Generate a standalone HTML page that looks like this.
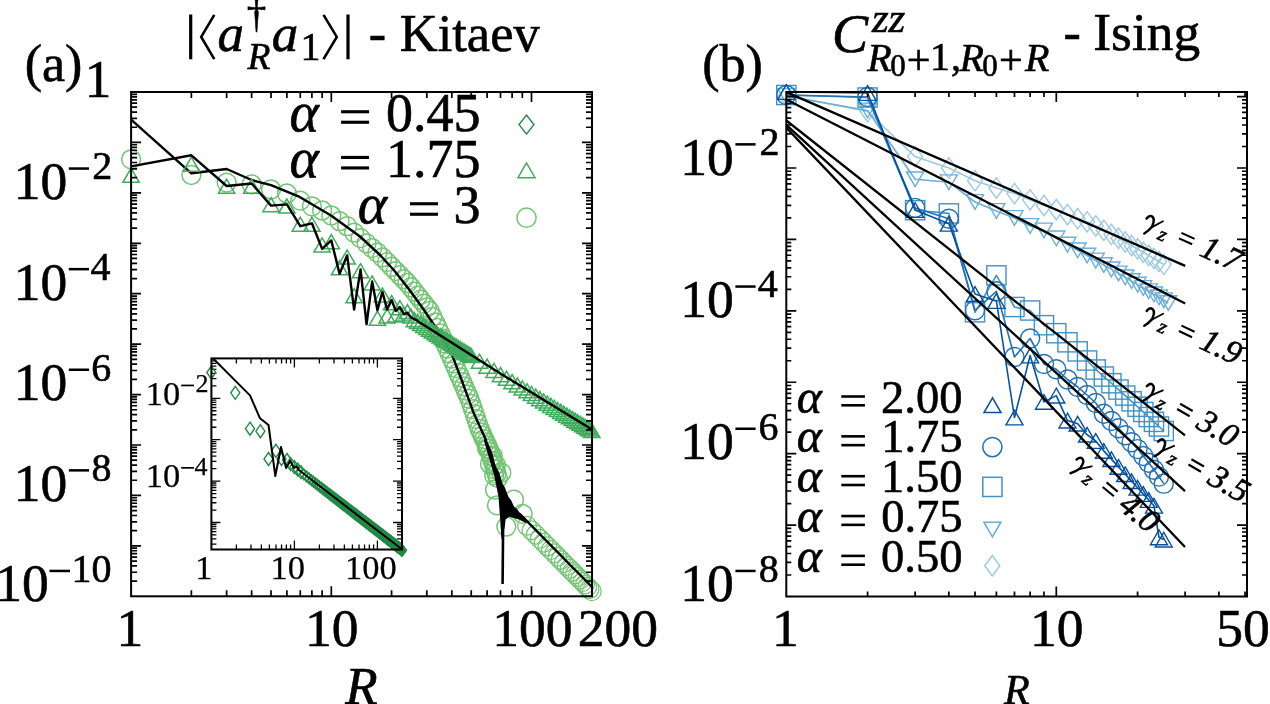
<!DOCTYPE html><html><head><meta charset="utf-8"><style>html,body{margin:0;padding:0;background:#fff;overflow:hidden}svg{display:block;will-change:transform}text{stroke:#000;stroke-width:0.6px}.th text{stroke-width:0.25px}</style></head><body><svg width="1270" height="704" viewBox="0 0 1270 704"><clipPath id="ca"><rect x="131.1" y="92.0" width="460.9" height="504.29999999999995"/></clipPath><g><circle cx="131.1" cy="159.3" r="9.4" fill="none" stroke="#74c476" stroke-width="1.5"/><circle cx="191.37" cy="175" r="9.4" fill="none" stroke="#74c476" stroke-width="1.5"/><circle cx="226.62" cy="182.6" r="9.4" fill="none" stroke="#74c476" stroke-width="1.5"/><circle cx="251.63" cy="184.3" r="9.4" fill="none" stroke="#74c476" stroke-width="1.5"/><circle cx="271.03" cy="189.5" r="9.4" fill="none" stroke="#74c476" stroke-width="1.5"/><circle cx="286.89" cy="193.5" r="9.4" fill="none" stroke="#74c476" stroke-width="1.5"/><circle cx="300.29" cy="200.6" r="9.4" fill="none" stroke="#74c476" stroke-width="1.5"/><circle cx="311.9" cy="206.3" r="9.4" fill="none" stroke="#74c476" stroke-width="1.5"/><circle cx="322.14" cy="210.5" r="9.4" fill="none" stroke="#74c476" stroke-width="1.5"/><circle cx="331.3" cy="215.5" r="9.4" fill="none" stroke="#74c476" stroke-width="1.5"/><circle cx="339.59" cy="221.2" r="9.4" fill="none" stroke="#74c476" stroke-width="1.5"/><circle cx="347.15" cy="226.2" r="9.4" fill="none" stroke="#74c476" stroke-width="1.5"/><circle cx="354.11" cy="232.6" r="9.4" fill="none" stroke="#74c476" stroke-width="1.5"/><circle cx="360.55" cy="238.15" r="9.4" fill="none" stroke="#74c476" stroke-width="1.5"/><circle cx="366.55" cy="243.32" r="9.4" fill="none" stroke="#74c476" stroke-width="1.5"/><circle cx="372.16" cy="248.15" r="9.4" fill="none" stroke="#74c476" stroke-width="1.5"/><circle cx="377.44" cy="252.69" r="9.4" fill="none" stroke="#74c476" stroke-width="1.5"/><circle cx="382.41" cy="257.36" r="9.4" fill="none" stroke="#74c476" stroke-width="1.5"/><circle cx="387.11" cy="262.18" r="9.4" fill="none" stroke="#74c476" stroke-width="1.5"/><circle cx="391.57" cy="266.75" r="9.4" fill="none" stroke="#74c476" stroke-width="1.5"/><circle cx="395.81" cy="271.1" r="9.4" fill="none" stroke="#74c476" stroke-width="1.5"/><circle cx="399.85" cy="275.24" r="9.4" fill="none" stroke="#74c476" stroke-width="1.5"/><circle cx="403.72" cy="279.2" r="9.4" fill="none" stroke="#74c476" stroke-width="1.5"/><circle cx="407.42" cy="282.99" r="9.4" fill="none" stroke="#74c476" stroke-width="1.5"/><circle cx="410.97" cy="287.25" r="9.4" fill="none" stroke="#74c476" stroke-width="1.5"/><circle cx="414.38" cy="291.58" r="9.4" fill="none" stroke="#74c476" stroke-width="1.5"/><circle cx="417.66" cy="295.74" r="9.4" fill="none" stroke="#74c476" stroke-width="1.5"/><circle cx="420.82" cy="299.74" r="9.4" fill="none" stroke="#74c476" stroke-width="1.5"/><circle cx="423.87" cy="303.61" r="9.4" fill="none" stroke="#74c476" stroke-width="1.5"/><circle cx="426.82" cy="307.35" r="9.4" fill="none" stroke="#74c476" stroke-width="1.5"/><circle cx="429.67" cy="310.96" r="9.4" fill="none" stroke="#74c476" stroke-width="1.5"/><circle cx="432.43" cy="316.8" r="9.4" fill="none" stroke="#74c476" stroke-width="1.5"/><circle cx="435.11" cy="322.49" r="9.4" fill="none" stroke="#74c476" stroke-width="1.5"/><circle cx="437.7" cy="328" r="9.4" fill="none" stroke="#74c476" stroke-width="1.5"/><circle cx="440.22" cy="333.35" r="9.4" fill="none" stroke="#74c476" stroke-width="1.5"/><circle cx="442.67" cy="338.56" r="9.4" fill="none" stroke="#74c476" stroke-width="1.5"/><circle cx="445.05" cy="343.62" r="9.4" fill="none" stroke="#74c476" stroke-width="1.5"/><circle cx="447.37" cy="348.54" r="9.4" fill="none" stroke="#74c476" stroke-width="1.5"/><circle cx="449.63" cy="353.44" r="9.4" fill="none" stroke="#74c476" stroke-width="1.5"/><circle cx="451.83" cy="358.48" r="9.4" fill="none" stroke="#74c476" stroke-width="1.5"/><circle cx="453.98" cy="363.4" r="9.4" fill="none" stroke="#74c476" stroke-width="1.5"/><circle cx="456.07" cy="368.19" r="9.4" fill="none" stroke="#74c476" stroke-width="1.5"/><circle cx="458.12" cy="372.87" r="9.4" fill="none" stroke="#74c476" stroke-width="1.5"/><circle cx="460.12" cy="377.45" r="9.4" fill="none" stroke="#74c476" stroke-width="1.5"/><circle cx="462.07" cy="381.92" r="9.4" fill="none" stroke="#74c476" stroke-width="1.5"/><circle cx="463.98" cy="386.29" r="9.4" fill="none" stroke="#74c476" stroke-width="1.5"/><circle cx="465.85" cy="390.57" r="9.4" fill="none" stroke="#74c476" stroke-width="1.5"/><circle cx="467.68" cy="394.76" r="9.4" fill="none" stroke="#74c476" stroke-width="1.5"/><circle cx="469.48" cy="398.86" r="9.4" fill="none" stroke="#74c476" stroke-width="1.5"/><circle cx="471.23" cy="403.89" r="9.4" fill="none" stroke="#74c476" stroke-width="1.5"/><circle cx="472.96" cy="409.04" r="9.4" fill="none" stroke="#74c476" stroke-width="1.5"/><circle cx="474.64" cy="414.08" r="9.4" fill="none" stroke="#74c476" stroke-width="1.5"/><circle cx="476.3" cy="419.04" r="9.4" fill="none" stroke="#74c476" stroke-width="1.5"/><circle cx="477.93" cy="423.89" r="9.4" fill="none" stroke="#74c476" stroke-width="1.5"/><circle cx="479.52" cy="428.66" r="9.4" fill="none" stroke="#74c476" stroke-width="1.5"/><circle cx="481.09" cy="432.33" r="9.4" fill="none" stroke="#74c476" stroke-width="1.5"/><circle cx="482.63" cy="435.72" r="9.4" fill="none" stroke="#74c476" stroke-width="1.5"/><circle cx="484.14" cy="439.05" r="9.4" fill="none" stroke="#74c476" stroke-width="1.5"/><circle cx="485.62" cy="442.33" r="9.4" fill="none" stroke="#74c476" stroke-width="1.5"/><circle cx="487.09" cy="445.54" r="9.4" fill="none" stroke="#74c476" stroke-width="1.5"/><circle cx="488.52" cy="448.71" r="9.4" fill="none" stroke="#74c476" stroke-width="1.5"/><circle cx="489.94" cy="452.07" r="9.4" fill="none" stroke="#74c476" stroke-width="1.5"/><circle cx="491.33" cy="456.57" r="9.4" fill="none" stroke="#74c476" stroke-width="1.5"/><circle cx="492.7" cy="461" r="9.4" fill="none" stroke="#74c476" stroke-width="1.5"/><circle cx="494.05" cy="465.37" r="9.4" fill="none" stroke="#74c476" stroke-width="1.5"/><circle cx="495.37" cy="469.67" r="9.4" fill="none" stroke="#74c476" stroke-width="1.5"/><circle cx="496.68" cy="473.9" r="9.4" fill="none" stroke="#74c476" stroke-width="1.5"/><circle cx="497.97" cy="478.07" r="9.4" fill="none" stroke="#74c476" stroke-width="1.5"/><circle cx="527.04" cy="525.82" r="9.4" fill="none" stroke="#74c476" stroke-width="1.25"/><circle cx="531.5" cy="530.33" r="9.4" fill="none" stroke="#74c476" stroke-width="1.25"/><circle cx="535.74" cy="534.62" r="9.4" fill="none" stroke="#74c476" stroke-width="1.25"/><circle cx="539.79" cy="538.71" r="9.4" fill="none" stroke="#74c476" stroke-width="1.25"/><circle cx="543.65" cy="542.61" r="9.4" fill="none" stroke="#74c476" stroke-width="1.25"/><circle cx="547.35" cy="546.36" r="9.4" fill="none" stroke="#74c476" stroke-width="1.25"/><circle cx="550.9" cy="549.94" r="9.4" fill="none" stroke="#74c476" stroke-width="1.25"/><circle cx="554.31" cy="553.39" r="9.4" fill="none" stroke="#74c476" stroke-width="1.25"/><circle cx="557.59" cy="556.71" r="9.4" fill="none" stroke="#74c476" stroke-width="1.25"/><circle cx="560.75" cy="559.91" r="9.4" fill="none" stroke="#74c476" stroke-width="1.25"/><circle cx="563.81" cy="562.99" r="9.4" fill="none" stroke="#74c476" stroke-width="1.25"/><circle cx="566.75" cy="565.97" r="9.4" fill="none" stroke="#74c476" stroke-width="1.25"/><circle cx="569.6" cy="568.86" r="9.4" fill="none" stroke="#74c476" stroke-width="1.25"/><circle cx="572.36" cy="571.65" r="9.4" fill="none" stroke="#74c476" stroke-width="1.25"/><circle cx="575.04" cy="574.35" r="9.4" fill="none" stroke="#74c476" stroke-width="1.25"/><circle cx="577.64" cy="576.98" r="9.4" fill="none" stroke="#74c476" stroke-width="1.25"/><circle cx="580.16" cy="579.52" r="9.4" fill="none" stroke="#74c476" stroke-width="1.25"/><circle cx="582.61" cy="582" r="9.4" fill="none" stroke="#74c476" stroke-width="1.25"/><circle cx="584.99" cy="584.41" r="9.4" fill="none" stroke="#74c476" stroke-width="1.25"/><circle cx="587.31" cy="586.75" r="9.4" fill="none" stroke="#74c476" stroke-width="1.25"/><circle cx="589.56" cy="589.04" r="9.4" fill="none" stroke="#74c476" stroke-width="1.25"/><circle cx="591.77" cy="591.26" r="9.4" fill="none" stroke="#74c476" stroke-width="1.25"/><circle cx="487" cy="448.5" r="9.4" fill="none" stroke="#74c476" stroke-width="1.5"/><circle cx="492.8" cy="456" r="9.4" fill="none" stroke="#74c476" stroke-width="1.5"/><circle cx="496" cy="465" r="9.4" fill="none" stroke="#74c476" stroke-width="1.5"/><circle cx="501.3" cy="472.7" r="9.4" fill="none" stroke="#74c476" stroke-width="1.5"/><circle cx="490" cy="464" r="9.4" fill="none" stroke="#74c476" stroke-width="1.5"/><circle cx="494.2" cy="475.5" r="9.4" fill="none" stroke="#74c476" stroke-width="1.5"/><circle cx="495" cy="489.7" r="9.4" fill="none" stroke="#74c476" stroke-width="1.5"/><circle cx="497" cy="505.3" r="9.4" fill="none" stroke="#74c476" stroke-width="1.5"/><circle cx="514" cy="499.7" r="9.4" fill="none" stroke="#74c476" stroke-width="1.5"/><circle cx="506.3" cy="526.6" r="9.4" fill="none" stroke="#74c476" stroke-width="1.5"/><circle cx="522.6" cy="513.9" r="9.4" fill="none" stroke="#74c476" stroke-width="1.5"/></g><polyline points="131.1,119.6 191.37,173.3 226.62,169 251.63,180 271.03,185.2 298.4,196.3 331,215.5 360,236.5 380,255 394.2,270.5 408.4,288.5 422.6,308 436.8,329 451.9,354.4 461.6,380 474.1,414.1 485.5,439.1 493.4,466.4" fill="none" stroke="#000" stroke-width="2.4" stroke-linejoin="round" /><polygon points="485,439 488.5,444 492,452 495.6,465.6 499,472 502.7,484 505,488 508.4,496.8 511,500 514.1,506.8 517,509 521.2,515.3 528,521 526,523 519,519.5 509,516.7 505.6,519.5 504.9,526 501.5,540 499.9,515.3 498.5,496.8 494.2,475.5 484,441" fill="#000"/><path d="M503.2 515L502.6 584" stroke="#000" stroke-width="2.6"/><polyline points="505,505 520,514.2 592,587" fill="none" stroke="#000" stroke-width="2.4" stroke-linejoin="round" /><g><polygon points="131.1,168.14 122.95,182.26 139.25,182.26" fill="none" stroke="#41ab5d" stroke-width="1.5"/><polygon points="191.37,157.24 183.22,171.36 199.52,171.36" fill="none" stroke="#41ab5d" stroke-width="1.5"/><polygon points="226.62,179.24 218.47,193.36 234.77,193.36" fill="none" stroke="#41ab5d" stroke-width="1.5"/><polygon points="251.63,179.24 243.48,193.36 259.78,193.36" fill="none" stroke="#41ab5d" stroke-width="1.5"/><polygon points="271.03,197.54 262.88,211.66 279.18,211.66" fill="none" stroke="#41ab5d" stroke-width="1.5"/><polygon points="286.89,198.94 278.74,213.06 295.04,213.06" fill="none" stroke="#41ab5d" stroke-width="1.5"/><polygon points="300.29,217.24 292.14,231.36 308.44,231.36" fill="none" stroke="#41ab5d" stroke-width="1.5"/><polygon points="311.9,217.14 303.75,231.26 320.05,231.26" fill="none" stroke="#41ab5d" stroke-width="1.5"/><polygon points="322.14,237.94 313.99,252.06 330.29,252.06" fill="none" stroke="#41ab5d" stroke-width="1.5"/><polygon points="331.3,234.54 323.15,248.66 339.45,248.66" fill="none" stroke="#41ab5d" stroke-width="1.5"/><polygon points="339.59,260.64 331.44,274.76 347.74,274.76" fill="none" stroke="#41ab5d" stroke-width="1.5"/><polygon points="347.15,249.94 339,264.06 355.3,264.06" fill="none" stroke="#41ab5d" stroke-width="1.5"/><polygon points="354.11,288.54 345.96,302.66 362.26,302.66" fill="none" stroke="#41ab5d" stroke-width="1.5"/><polygon points="360.55,263.64 352.4,277.76 368.7,277.76" fill="none" stroke="#41ab5d" stroke-width="1.5"/><polygon points="372.16,275.94 364.01,290.06 380.31,290.06" fill="none" stroke="#41ab5d" stroke-width="1.5"/><polygon points="377.44,311.14 369.29,325.26 385.59,325.26" fill="none" stroke="#41ab5d" stroke-width="1.5"/><polygon points="382.41,287.94 374.26,302.06 390.56,302.06" fill="none" stroke="#41ab5d" stroke-width="1.5"/><polygon points="387.11,308.94 378.96,323.06 395.26,323.06" fill="none" stroke="#41ab5d" stroke-width="1.5"/><polygon points="391.57,295.54 383.42,309.66 399.72,309.66" fill="none" stroke="#41ab5d" stroke-width="1.5"/><polygon points="395.81,307.94 387.66,322.06 403.96,322.06" fill="none" stroke="#41ab5d" stroke-width="1.5"/><polygon points="399.85,300.64 391.7,314.76 408,314.76" fill="none" stroke="#41ab5d" stroke-width="1.5"/><polygon points="403.72,306.94 395.57,321.06 411.87,321.06" fill="none" stroke="#41ab5d" stroke-width="1.5"/><polygon points="407.42,304.54 399.27,318.66 415.57,318.66" fill="none" stroke="#41ab5d" stroke-width="1.5"/><polygon points="410.97,308.94 402.82,323.06 419.12,323.06" fill="none" stroke="#41ab5d" stroke-width="1.5"/><polygon points="414.38,312.61 406.23,326.73 422.53,326.73" fill="none" stroke="#41ab5d" stroke-width="1.5"/><polygon points="417.66,314.44 409.51,328.56 425.81,328.56" fill="none" stroke="#41ab5d" stroke-width="1.5"/><polygon points="420.82,316.45 412.67,330.57 428.97,330.57" fill="none" stroke="#41ab5d" stroke-width="1.5"/><polygon points="423.87,318.39 415.72,332.51 432.02,332.51" fill="none" stroke="#41ab5d" stroke-width="1.5"/><polygon points="426.82,320.26 418.67,334.38 434.97,334.38" fill="none" stroke="#41ab5d" stroke-width="1.5"/><polygon points="429.67,322.07 421.52,336.19 437.82,336.19" fill="none" stroke="#41ab5d" stroke-width="1.5"/><polygon points="432.43,323.83 424.28,337.94 440.58,337.94" fill="none" stroke="#41ab5d" stroke-width="1.5"/><polygon points="435.11,325.53 426.96,339.64 443.26,339.64" fill="none" stroke="#41ab5d" stroke-width="1.5"/><polygon points="437.7,327.18 429.55,341.29 445.85,341.29" fill="none" stroke="#41ab5d" stroke-width="1.5"/><polygon points="440.22,328.78 432.07,342.89 448.37,342.89" fill="none" stroke="#41ab5d" stroke-width="1.5"/><polygon points="442.67,330.33 434.52,344.45 450.82,344.45" fill="none" stroke="#41ab5d" stroke-width="1.5"/><polygon points="445.05,331.85 436.9,345.96 453.2,345.96" fill="none" stroke="#41ab5d" stroke-width="1.5"/><polygon points="447.37,333.32 439.22,347.43 455.52,347.43" fill="none" stroke="#41ab5d" stroke-width="1.5"/><polygon points="449.63,334.75 441.48,348.87 457.78,348.87" fill="none" stroke="#41ab5d" stroke-width="1.5"/><polygon points="451.83,336.15 443.68,350.27 459.98,350.27" fill="none" stroke="#41ab5d" stroke-width="1.5"/><polygon points="453.98,337.52 445.83,351.63 462.13,351.63" fill="none" stroke="#41ab5d" stroke-width="1.5"/><polygon points="456.07,338.85 447.92,352.96 464.22,352.96" fill="none" stroke="#41ab5d" stroke-width="1.5"/><polygon points="458.12,340.15 449.97,354.26 466.27,354.26" fill="none" stroke="#41ab5d" stroke-width="1.5"/><polygon points="460.12,341.42 451.97,355.53 468.27,355.53" fill="none" stroke="#41ab5d" stroke-width="1.5"/><polygon points="462.07,342.66 453.92,356.77 470.22,356.77" fill="none" stroke="#41ab5d" stroke-width="1.5"/><polygon points="463.98,343.87 455.83,357.99 472.13,357.99" fill="none" stroke="#41ab5d" stroke-width="1.5"/><polygon points="465.85,345.06 457.7,359.18 474,359.18" fill="none" stroke="#41ab5d" stroke-width="1.5"/><polygon points="467.68,346.22 459.53,360.34 475.83,360.34" fill="none" stroke="#41ab5d" stroke-width="1.5"/><polygon points="469.48,347.36 461.33,361.48 477.63,361.48" fill="none" stroke="#41ab5d" stroke-width="1.5"/><polygon points="471.23,348.48 463.08,362.59 479.38,362.59" fill="none" stroke="#41ab5d" stroke-width="1.5"/><polygon points="479.52,354.24 471.37,368.36 487.67,368.36" fill="none" stroke="#41ab5d" stroke-width="1.5"/><polygon points="487.09,359.05 478.94,373.16 495.24,373.16" fill="none" stroke="#41ab5d" stroke-width="1.5"/><polygon points="494.05,363.47 485.9,377.58 502.2,377.58" fill="none" stroke="#41ab5d" stroke-width="1.5"/><polygon points="500.49,367.53 492.34,381.65 508.64,381.65" fill="none" stroke="#41ab5d" stroke-width="1.5"/><polygon points="506.49,371.19 498.34,385.31 514.64,385.31" fill="none" stroke="#41ab5d" stroke-width="1.5"/><polygon points="512.1,374.62 503.95,388.74 520.25,388.74" fill="none" stroke="#41ab5d" stroke-width="1.5"/><polygon points="517.37,377.84 509.22,391.96 525.52,391.96" fill="none" stroke="#41ab5d" stroke-width="1.5"/><polygon points="522.34,380.88 514.19,395 530.49,395" fill="none" stroke="#41ab5d" stroke-width="1.5"/><polygon points="527.04,383.75 518.89,397.87 535.19,397.87" fill="none" stroke="#41ab5d" stroke-width="1.5"/><polygon points="531.5,386.48 523.35,400.59 539.65,400.59" fill="none" stroke="#41ab5d" stroke-width="1.5"/><polygon points="535.74,389.07 527.59,403.19 543.89,403.19" fill="none" stroke="#41ab5d" stroke-width="1.5"/><polygon points="539.79,391.54 531.64,405.66 547.94,405.66" fill="none" stroke="#41ab5d" stroke-width="1.5"/><polygon points="543.65,393.9 535.5,408.02 551.8,408.02" fill="none" stroke="#41ab5d" stroke-width="1.5"/><polygon points="547.35,396.16 539.2,410.28 555.5,410.28" fill="none" stroke="#41ab5d" stroke-width="1.5"/><polygon points="550.9,398.33 542.75,412.45 559.05,412.45" fill="none" stroke="#41ab5d" stroke-width="1.5"/><polygon points="554.31,400.41 546.16,414.53 562.46,414.53" fill="none" stroke="#41ab5d" stroke-width="1.5"/><polygon points="557.59,402.42 549.44,416.54 565.74,416.54" fill="none" stroke="#41ab5d" stroke-width="1.5"/><polygon points="560.75,404.35 552.6,418.47 568.9,418.47" fill="none" stroke="#41ab5d" stroke-width="1.5"/><polygon points="563.81,406.22 555.66,420.33 571.96,420.33" fill="none" stroke="#41ab5d" stroke-width="1.5"/><polygon points="566.75,408.02 558.6,422.13 574.9,422.13" fill="none" stroke="#41ab5d" stroke-width="1.5"/><polygon points="569.6,409.76 561.45,423.87 577.75,423.87" fill="none" stroke="#41ab5d" stroke-width="1.5"/><polygon points="572.36,411.44 564.21,425.56 580.51,425.56" fill="none" stroke="#41ab5d" stroke-width="1.5"/><polygon points="575.04,413.08 566.89,427.2 583.19,427.2" fill="none" stroke="#41ab5d" stroke-width="1.5"/><polygon points="577.64,414.67 569.49,428.78 585.79,428.78" fill="none" stroke="#41ab5d" stroke-width="1.5"/><polygon points="580.16,416.21 572.01,430.32 588.31,430.32" fill="none" stroke="#41ab5d" stroke-width="1.5"/><polygon points="582.61,417.7 574.46,431.82 590.76,431.82" fill="none" stroke="#41ab5d" stroke-width="1.5"/><polygon points="584.99,419.16 576.84,433.27 593.14,433.27" fill="none" stroke="#41ab5d" stroke-width="1.5"/><polygon points="587.31,420.57 579.16,434.69 595.46,434.69" fill="none" stroke="#41ab5d" stroke-width="1.5"/><polygon points="589.56,421.95 581.41,436.07 597.71,436.07" fill="none" stroke="#41ab5d" stroke-width="1.5"/><polygon points="591.77,423.3 583.62,437.42 599.92,437.42" fill="none" stroke="#41ab5d" stroke-width="1.5"/></g><polyline points="131.1,166.4 191.37,155.3 226.62,186 251.63,183.5 271.03,205.6 286.89,204.4 300.29,226.2 311.9,223.3 322.14,248.9 331.3,240.4 339.59,273.9 347.15,255.3 354.11,309.6 360.55,269.4 366.55,324.3 372.16,281.5 377.44,310.3 382.41,291.8 387.11,309.6 391.57,300 395.81,311 399.85,307 403.72,314 407.42,312.8 410.97,317.3 417.5,320.9 499.2,372.8 592,429.5" fill="none" stroke="#000" stroke-width="2.4" stroke-linejoin="round" /><polygon points="526.5,115.1 533.9,124.6 526.5,134.1 519.1,124.6" fill="none" stroke="#238b45" stroke-width="1.5"/><polygon points="526.5,162.94 518,177.66 535,177.66" fill="none" stroke="#41ab5d" stroke-width="1.5"/><circle cx="526.5" cy="217.7" r="9.6" fill="none" stroke="#74c476" stroke-width="1.5"/><rect x="211.4" y="358.4" width="190.6" height="191.10000000000002" fill="#fff"/><path d="M236.39 549.5v-5M236.39 358.4v5M251 549.5v-5M251 358.4v5M261.37 549.5v-5M261.37 358.4v5M269.41 549.5v-5M269.41 358.4v5M275.99 549.5v-5M275.99 358.4v5M281.54 549.5v-5M281.54 358.4v5M286.36 549.5v-5M286.36 358.4v5M290.6 549.5v-5M290.6 358.4v5M294.4 549.5v-9M294.4 358.4v9M319.39 549.5v-5M319.39 358.4v5M334 549.5v-5M334 358.4v5M344.37 549.5v-5M344.37 358.4v5M352.41 549.5v-5M352.41 358.4v5M358.99 549.5v-5M358.99 358.4v5M364.54 549.5v-5M364.54 358.4v5M369.36 549.5v-5M369.36 358.4v5M373.6 549.5v-5M373.6 358.4v5M377.4 549.5v-9M377.4 358.4v9M211.4 544.15h5M402 544.15h-5M211.4 538.97h5M402 538.97h-5M211.4 534.96h5M402 534.96h-5M211.4 531.68h5M402 531.68h-5M211.4 528.91h5M402 528.91h-5M211.4 526.51h5M402 526.51h-5M211.4 524.39h5M402 524.39h-5M211.4 522.5h9M402 522.5h-9M211.4 510.04h5M402 510.04h-5M211.4 502.75h5M402 502.75h-5M211.4 497.57h5M402 497.57h-5M211.4 493.56h5M402 493.56h-5M211.4 490.28h5M402 490.28h-5M211.4 487.51h5M402 487.51h-5M211.4 485.11h5M402 485.11h-5M211.4 482.99h5M402 482.99h-5M211.4 481.1h9M402 481.1h-9M211.4 468.64h5M402 468.64h-5M211.4 461.35h5M402 461.35h-5M211.4 456.17h5M402 456.17h-5M211.4 452.16h5M402 452.16h-5M211.4 448.88h5M402 448.88h-5M211.4 446.11h5M402 446.11h-5M211.4 443.71h5M402 443.71h-5M211.4 441.59h5M402 441.59h-5M211.4 439.7h9M402 439.7h-9M211.4 427.24h5M402 427.24h-5M211.4 419.95h5M402 419.95h-5M211.4 414.77h5M402 414.77h-5M211.4 410.76h5M402 410.76h-5M211.4 407.48h5M402 407.48h-5M211.4 404.71h5M402 404.71h-5M211.4 402.31h5M402 402.31h-5M211.4 400.19h5M402 400.19h-5M211.4 398.3h9M402 398.3h-9M211.4 385.84h5M402 385.84h-5M211.4 378.55h5M402 378.55h-5M211.4 373.37h5M402 373.37h-5M211.4 369.36h5M402 369.36h-5M211.4 366.08h5M402 366.08h-5M211.4 363.31h5M402 363.31h-5M211.4 360.91h5M402 360.91h-5" stroke="#000" stroke-width="1.3" fill="none"/><g><polygon points="211.3,366 215.8,372.5 211.3,379 206.8,372.5" fill="none" stroke="#238b45" stroke-width="1.4"/><polygon points="235.3,386.3 239.8,392.8 235.3,399.3 230.8,392.8" fill="none" stroke="#238b45" stroke-width="1.4"/><polygon points="250,422.2 254.5,428.7 250,435.2 245.5,428.7" fill="none" stroke="#238b45" stroke-width="1.4"/><polygon points="260.4,424.7 264.9,431.2 260.4,437.7 255.9,431.2" fill="none" stroke="#238b45" stroke-width="1.4"/><polygon points="268.5,452.5 273,459 268.5,465.5 264,459" fill="none" stroke="#238b45" stroke-width="1.4"/><polygon points="275.9,444.3 280.4,450.8 275.9,457.3 271.4,450.8" fill="none" stroke="#238b45" stroke-width="1.4"/><polygon points="281.5,452.5 286,459 281.5,465.5 277,459" fill="none" stroke="#238b45" stroke-width="1.4"/><polygon points="287,453.5 291.5,460 287,466.5 282.5,460" fill="none" stroke="#238b45" stroke-width="1.4"/><polygon points="290.6,457.63 295.1,464.13 290.6,470.63 286.1,464.13" fill="none" stroke="#238b45" stroke-width="1.4"/><polygon points="294.4,460.57 298.9,467.07 294.4,473.57 289.9,467.07" fill="none" stroke="#238b45" stroke-width="1.4"/><polygon points="297.84,463.22 302.34,469.72 297.84,476.22 293.34,469.72" fill="none" stroke="#238b45" stroke-width="1.4"/><polygon points="300.97,465.64 305.47,472.14 300.97,478.64 296.47,472.14" fill="none" stroke="#238b45" stroke-width="1.4"/><polygon points="303.86,468.87 307.86,474.37 303.86,479.87 299.86,474.37" fill="none" stroke="#238b45" stroke-width="1.4"/><polygon points="306.53,470.93 310.53,476.43 306.53,481.93 302.53,476.43" fill="none" stroke="#238b45" stroke-width="1.4"/><polygon points="309.02,472.85 313.02,478.35 309.02,483.85 305.02,478.35" fill="none" stroke="#238b45" stroke-width="1.4"/><polygon points="311.34,474.65 315.34,480.15 311.34,485.65 307.34,480.15" fill="none" stroke="#238b45" stroke-width="1.4"/><polygon points="313.53,476.33 317.53,481.83 313.53,487.33 309.53,481.83" fill="none" stroke="#238b45" stroke-width="1.4"/><polygon points="315.59,477.92 319.59,483.42 315.59,488.92 311.59,483.42" fill="none" stroke="#238b45" stroke-width="1.4"/><polygon points="317.54,479.43 321.54,484.93 317.54,490.43 313.54,484.93" fill="none" stroke="#238b45" stroke-width="1.4"/><polygon points="319.39,480.86 323.39,486.36 319.39,491.86 315.39,486.36" fill="none" stroke="#238b45" stroke-width="1.4"/><polygon points="321.14,482.21 325.14,487.71 321.14,493.21 317.14,487.71" fill="none" stroke="#238b45" stroke-width="1.4"/><polygon points="322.82,483.51 326.82,489.01 322.82,494.51 318.82,489.01" fill="none" stroke="#238b45" stroke-width="1.4"/><polygon points="324.42,484.75 328.42,490.25 324.42,495.75 320.42,490.25" fill="none" stroke="#238b45" stroke-width="1.4"/><polygon points="325.96,485.93 329.96,491.43 325.96,496.93 321.96,491.43" fill="none" stroke="#238b45" stroke-width="1.4"/><polygon points="327.43,487.07 331.43,492.57 327.43,498.07 323.43,492.57" fill="none" stroke="#238b45" stroke-width="1.4"/><polygon points="328.84,488.16 332.84,493.66 328.84,499.16 324.84,493.66" fill="none" stroke="#238b45" stroke-width="1.4"/><polygon points="330.2,489.21 334.2,494.71 330.2,500.21 326.2,494.71" fill="none" stroke="#238b45" stroke-width="1.4"/><polygon points="331.51,490.22 335.51,495.72 331.51,501.22 327.51,495.72" fill="none" stroke="#238b45" stroke-width="1.4"/><polygon points="332.78,491.2 336.78,496.7 332.78,502.2 328.78,496.7" fill="none" stroke="#238b45" stroke-width="1.4"/><polygon points="334,492.14 338,497.64 334,503.14 330,497.64" fill="none" stroke="#238b45" stroke-width="1.4"/><polygon points="335.18,493.05 339.18,498.55 335.18,504.05 331.18,498.55" fill="none" stroke="#238b45" stroke-width="1.4"/><polygon points="336.33,493.94 340.33,499.44 336.33,504.94 332.33,499.44" fill="none" stroke="#238b45" stroke-width="1.4"/><polygon points="337.44,494.79 341.44,500.29 337.44,505.79 333.44,500.29" fill="none" stroke="#238b45" stroke-width="1.4"/><polygon points="338.51,495.62 342.51,501.12 338.51,506.62 334.51,501.12" fill="none" stroke="#238b45" stroke-width="1.4"/><polygon points="339.56,496.43 343.56,501.93 339.56,507.43 335.56,501.93" fill="none" stroke="#238b45" stroke-width="1.4"/><polygon points="340.57,497.21 344.57,502.71 340.57,508.21 336.57,502.71" fill="none" stroke="#238b45" stroke-width="1.4"/><polygon points="341.56,497.98 345.56,503.48 341.56,508.98 337.56,503.48" fill="none" stroke="#238b45" stroke-width="1.4"/><polygon points="342.52,498.72 346.52,504.22 342.52,509.72 338.52,504.22" fill="none" stroke="#238b45" stroke-width="1.4"/><polygon points="343.46,499.44 347.46,504.94 343.46,510.44 339.46,504.94" fill="none" stroke="#238b45" stroke-width="1.4"/><polygon points="344.37,500.15 348.37,505.65 344.37,511.15 340.37,505.65" fill="none" stroke="#238b45" stroke-width="1.4"/><polygon points="345.26,500.83 349.26,506.33 345.26,511.83 341.26,506.33" fill="none" stroke="#238b45" stroke-width="1.4"/><polygon points="346.13,501.5 350.13,507 346.13,512.5 342.13,507" fill="none" stroke="#238b45" stroke-width="1.4"/><polygon points="346.98,502.16 350.98,507.66 346.98,513.16 342.98,507.66" fill="none" stroke="#238b45" stroke-width="1.4"/><polygon points="347.81,502.8 351.81,508.3 347.81,513.8 343.81,508.3" fill="none" stroke="#238b45" stroke-width="1.4"/><polygon points="348.62,503.42 352.62,508.92 348.62,514.42 344.62,508.92" fill="none" stroke="#238b45" stroke-width="1.4"/><polygon points="349.41,504.04 353.41,509.54 349.41,515.04 345.41,509.54" fill="none" stroke="#238b45" stroke-width="1.4"/><polygon points="350.18,504.63 354.18,510.13 350.18,515.63 346.18,510.13" fill="none" stroke="#238b45" stroke-width="1.4"/><polygon points="350.94,505.22 354.94,510.72 350.94,516.22 346.94,510.72" fill="none" stroke="#238b45" stroke-width="1.4"/><polygon points="351.69,505.79 355.69,511.29 351.69,516.79 347.69,511.29" fill="none" stroke="#238b45" stroke-width="1.4"/><polygon points="352.41,506.36 356.41,511.86 352.41,517.36 348.41,511.86" fill="none" stroke="#238b45" stroke-width="1.4"/><polygon points="353.13,506.91 357.13,512.41 353.13,517.91 349.13,512.41" fill="none" stroke="#238b45" stroke-width="1.4"/><polygon points="353.83,507.45 357.83,512.95 353.83,518.45 349.83,512.95" fill="none" stroke="#238b45" stroke-width="1.4"/><polygon points="354.51,507.98 358.51,513.48 354.51,518.98 350.51,513.48" fill="none" stroke="#238b45" stroke-width="1.4"/><polygon points="355.19,508.5 359.19,514 355.19,519.5 351.19,514" fill="none" stroke="#238b45" stroke-width="1.4"/><polygon points="355.85,509.01 359.85,514.51 355.85,520.01 351.85,514.51" fill="none" stroke="#238b45" stroke-width="1.4"/><polygon points="356.5,509.51 360.5,515.01 356.5,520.51 352.5,515.01" fill="none" stroke="#238b45" stroke-width="1.4"/><polygon points="357.14,510 361.14,515.5 357.14,521 353.14,515.5" fill="none" stroke="#238b45" stroke-width="1.4"/><polygon points="357.76,510.49 361.76,515.99 357.76,521.49 353.76,515.99" fill="none" stroke="#238b45" stroke-width="1.4"/><polygon points="358.38,510.96 362.38,516.46 358.38,521.96 354.38,516.46" fill="none" stroke="#238b45" stroke-width="1.4"/><polygon points="358.99,511.43 362.99,516.93 358.99,522.43 354.99,516.93" fill="none" stroke="#238b45" stroke-width="1.4"/><polygon points="359.58,511.89 363.58,517.39 359.58,522.89 355.58,517.39" fill="none" stroke="#238b45" stroke-width="1.4"/><polygon points="360.17,512.34 364.17,517.84 360.17,523.34 356.17,517.84" fill="none" stroke="#238b45" stroke-width="1.4"/><polygon points="360.75,512.79 364.75,518.29 360.75,523.79 356.75,518.29" fill="none" stroke="#238b45" stroke-width="1.4"/><polygon points="361.31,513.23 365.31,518.73 361.31,524.23 357.31,518.73" fill="none" stroke="#238b45" stroke-width="1.4"/><polygon points="361.87,513.66 365.87,519.16 361.87,524.66 357.87,519.16" fill="none" stroke="#238b45" stroke-width="1.4"/><polygon points="362.42,514.08 366.42,519.58 362.42,525.08 358.42,519.58" fill="none" stroke="#238b45" stroke-width="1.4"/><polygon points="362.96,514.5 366.96,520 362.96,525.5 358.96,520" fill="none" stroke="#238b45" stroke-width="1.4"/><polygon points="363.5,514.91 367.5,520.41 363.5,525.91 359.5,520.41" fill="none" stroke="#238b45" stroke-width="1.4"/><polygon points="364.02,515.32 368.02,520.82 364.02,526.32 360.02,520.82" fill="none" stroke="#238b45" stroke-width="1.4"/><polygon points="364.54,515.72 368.54,521.22 364.54,526.72 360.54,521.22" fill="none" stroke="#238b45" stroke-width="1.4"/><polygon points="365.05,516.11 369.05,521.61 365.05,527.11 361.05,521.61" fill="none" stroke="#238b45" stroke-width="1.4"/><polygon points="365.56,516.5 369.56,522 365.56,527.5 361.56,522" fill="none" stroke="#238b45" stroke-width="1.4"/><polygon points="366.06,516.89 370.06,522.39 366.06,527.89 362.06,522.39" fill="none" stroke="#238b45" stroke-width="1.4"/><polygon points="366.55,517.27 370.55,522.77 366.55,528.27 362.55,522.77" fill="none" stroke="#238b45" stroke-width="1.4"/><polygon points="367.03,517.64 371.03,523.14 367.03,528.64 363.03,523.14" fill="none" stroke="#238b45" stroke-width="1.4"/><polygon points="367.51,518.01 371.51,523.51 367.51,529.01 363.51,523.51" fill="none" stroke="#238b45" stroke-width="1.4"/><polygon points="367.98,518.37 371.98,523.87 367.98,529.37 363.98,523.87" fill="none" stroke="#238b45" stroke-width="1.4"/><polygon points="368.44,518.73 372.44,524.23 368.44,529.73 364.44,524.23" fill="none" stroke="#238b45" stroke-width="1.4"/><polygon points="368.9,519.09 372.9,524.59 368.9,530.09 364.9,524.59" fill="none" stroke="#238b45" stroke-width="1.4"/><polygon points="369.36,519.44 373.36,524.94 369.36,530.44 365.36,524.94" fill="none" stroke="#238b45" stroke-width="1.4"/><polygon points="369.8,519.78 373.8,525.28 369.8,530.78 365.8,525.28" fill="none" stroke="#238b45" stroke-width="1.4"/><polygon points="370.25,520.12 374.25,525.62 370.25,531.12 366.25,525.62" fill="none" stroke="#238b45" stroke-width="1.4"/><polygon points="370.68,520.46 374.68,525.96 370.68,531.46 366.68,525.96" fill="none" stroke="#238b45" stroke-width="1.4"/><polygon points="371.12,520.79 375.12,526.29 371.12,531.79 367.12,526.29" fill="none" stroke="#238b45" stroke-width="1.4"/><polygon points="371.54,521.12 375.54,526.62 371.54,532.12 367.54,526.62" fill="none" stroke="#238b45" stroke-width="1.4"/><polygon points="371.96,521.45 375.96,526.95 371.96,532.45 367.96,526.95" fill="none" stroke="#238b45" stroke-width="1.4"/><polygon points="372.38,521.77 376.38,527.27 372.38,532.77 368.38,527.27" fill="none" stroke="#238b45" stroke-width="1.4"/><polygon points="372.79,522.09 376.79,527.59 372.79,533.09 368.79,527.59" fill="none" stroke="#238b45" stroke-width="1.4"/><polygon points="373.2,522.4 377.2,527.9 373.2,533.4 369.2,527.9" fill="none" stroke="#238b45" stroke-width="1.4"/><polygon points="373.6,522.71 377.6,528.21 373.6,533.71 369.6,528.21" fill="none" stroke="#238b45" stroke-width="1.4"/><polygon points="374,523.02 378,528.52 374,534.02 370,528.52" fill="none" stroke="#238b45" stroke-width="1.4"/><polygon points="374.39,523.32 378.39,528.82 374.39,534.32 370.39,528.82" fill="none" stroke="#238b45" stroke-width="1.4"/><polygon points="374.78,523.63 378.78,529.13 374.78,534.63 370.78,529.13" fill="none" stroke="#238b45" stroke-width="1.4"/><polygon points="375.17,523.92 379.17,529.42 375.17,534.92 371.17,529.42" fill="none" stroke="#238b45" stroke-width="1.4"/><polygon points="375.55,524.22 379.55,529.72 375.55,535.22 371.55,529.72" fill="none" stroke="#238b45" stroke-width="1.4"/><polygon points="375.93,524.51 379.93,530.01 375.93,535.51 371.93,530.01" fill="none" stroke="#238b45" stroke-width="1.4"/><polygon points="376.3,524.8 380.3,530.3 376.3,535.8 372.3,530.3" fill="none" stroke="#238b45" stroke-width="1.4"/><polygon points="376.67,525.08 380.67,530.58 376.67,536.08 372.67,530.58" fill="none" stroke="#238b45" stroke-width="1.4"/><polygon points="377.04,525.37 381.04,530.87 377.04,536.37 373.04,530.87" fill="none" stroke="#238b45" stroke-width="1.4"/><polygon points="377.4,525.64 381.4,531.14 377.4,536.64 373.4,531.14" fill="none" stroke="#238b45" stroke-width="1.4"/><polygon points="377.76,525.92 381.76,531.42 377.76,536.92 373.76,531.42" fill="none" stroke="#238b45" stroke-width="1.4"/><polygon points="378.11,526.2 382.11,531.7 378.11,537.2 374.11,531.7" fill="none" stroke="#238b45" stroke-width="1.4"/><polygon points="378.47,526.47 382.47,531.97 378.47,537.47 374.47,531.97" fill="none" stroke="#238b45" stroke-width="1.4"/><polygon points="378.81,526.74 382.81,532.24 378.81,537.74 374.81,532.24" fill="none" stroke="#238b45" stroke-width="1.4"/><polygon points="379.16,527 383.16,532.5 379.16,538 375.16,532.5" fill="none" stroke="#238b45" stroke-width="1.4"/><polygon points="379.5,527.27 383.5,532.77 379.5,538.27 375.5,532.77" fill="none" stroke="#238b45" stroke-width="1.4"/><polygon points="379.84,527.53 383.84,533.03 379.84,538.53 375.84,533.03" fill="none" stroke="#238b45" stroke-width="1.4"/><polygon points="380.17,527.79 384.17,533.29 380.17,538.79 376.17,533.29" fill="none" stroke="#238b45" stroke-width="1.4"/><polygon points="380.51,528.04 384.51,533.54 380.51,539.04 376.51,533.54" fill="none" stroke="#238b45" stroke-width="1.4"/><polygon points="380.84,528.3 384.84,533.8 380.84,539.3 376.84,533.8" fill="none" stroke="#238b45" stroke-width="1.4"/><polygon points="381.16,528.55 385.16,534.05 381.16,539.55 377.16,534.05" fill="none" stroke="#238b45" stroke-width="1.4"/><polygon points="381.49,528.8 385.49,534.3 381.49,539.8 377.49,534.3" fill="none" stroke="#238b45" stroke-width="1.4"/><polygon points="381.81,529.05 385.81,534.55 381.81,540.05 377.81,534.55" fill="none" stroke="#238b45" stroke-width="1.4"/><polygon points="382.12,529.29 386.12,534.79 382.12,540.29 378.12,534.79" fill="none" stroke="#238b45" stroke-width="1.4"/><polygon points="382.44,529.53 386.44,535.03 382.44,540.53 378.44,535.03" fill="none" stroke="#238b45" stroke-width="1.4"/><polygon points="382.75,529.78 386.75,535.28 382.75,540.78 378.75,535.28" fill="none" stroke="#238b45" stroke-width="1.4"/><polygon points="383.06,530.01 387.06,535.51 383.06,541.01 379.06,535.51" fill="none" stroke="#238b45" stroke-width="1.4"/><polygon points="383.37,530.25 387.37,535.75 383.37,541.25 379.37,535.75" fill="none" stroke="#238b45" stroke-width="1.4"/><polygon points="383.67,530.49 387.67,535.99 383.67,541.49 379.67,535.99" fill="none" stroke="#238b45" stroke-width="1.4"/><polygon points="383.97,530.72 387.97,536.22 383.97,541.72 379.97,536.22" fill="none" stroke="#238b45" stroke-width="1.4"/><polygon points="384.27,530.95 388.27,536.45 384.27,541.95 380.27,536.45" fill="none" stroke="#238b45" stroke-width="1.4"/><polygon points="384.57,531.18 388.57,536.68 384.57,542.18 380.57,536.68" fill="none" stroke="#238b45" stroke-width="1.4"/><polygon points="384.86,531.41 388.86,536.91 384.86,542.41 380.86,536.91" fill="none" stroke="#238b45" stroke-width="1.4"/><polygon points="385.15,531.63 389.15,537.13 385.15,542.63 381.15,537.13" fill="none" stroke="#238b45" stroke-width="1.4"/><polygon points="385.44,531.85 389.44,537.35 385.44,542.85 381.44,537.35" fill="none" stroke="#238b45" stroke-width="1.4"/><polygon points="385.73,532.08 389.73,537.58 385.73,543.08 381.73,537.58" fill="none" stroke="#238b45" stroke-width="1.4"/><polygon points="386.02,532.3 390.02,537.8 386.02,543.3 382.02,537.8" fill="none" stroke="#238b45" stroke-width="1.4"/><polygon points="386.3,532.51 390.3,538.01 386.3,543.51 382.3,538.01" fill="none" stroke="#238b45" stroke-width="1.4"/><polygon points="386.58,532.73 390.58,538.23 386.58,543.73 382.58,538.23" fill="none" stroke="#238b45" stroke-width="1.4"/><polygon points="386.86,532.95 390.86,538.45 386.86,543.95 382.86,538.45" fill="none" stroke="#238b45" stroke-width="1.4"/><polygon points="387.13,533.16 391.13,538.66 387.13,544.16 383.13,538.66" fill="none" stroke="#238b45" stroke-width="1.4"/><polygon points="387.41,533.37 391.41,538.87 387.41,544.37 383.41,538.87" fill="none" stroke="#238b45" stroke-width="1.4"/><polygon points="387.68,533.58 391.68,539.08 387.68,544.58 383.68,539.08" fill="none" stroke="#238b45" stroke-width="1.4"/><polygon points="387.95,533.79 391.95,539.29 387.95,544.79 383.95,539.29" fill="none" stroke="#238b45" stroke-width="1.4"/><polygon points="388.22,534 392.22,539.5 388.22,545 384.22,539.5" fill="none" stroke="#238b45" stroke-width="1.4"/><polygon points="388.48,534.2 392.48,539.7 388.48,545.2 384.48,539.7" fill="none" stroke="#238b45" stroke-width="1.4"/><polygon points="388.75,534.41 392.75,539.91 388.75,545.41 384.75,539.91" fill="none" stroke="#238b45" stroke-width="1.4"/><polygon points="389.01,534.61 393.01,540.11 389.01,545.61 385.01,540.11" fill="none" stroke="#238b45" stroke-width="1.4"/><polygon points="389.27,534.81 393.27,540.31 389.27,545.81 385.27,540.31" fill="none" stroke="#238b45" stroke-width="1.4"/><polygon points="389.53,535.01 393.53,540.51 389.53,546.01 385.53,540.51" fill="none" stroke="#238b45" stroke-width="1.4"/><polygon points="389.79,535.21 393.79,540.71 389.79,546.21 385.79,540.71" fill="none" stroke="#238b45" stroke-width="1.4"/><polygon points="390.04,535.4 394.04,540.9 390.04,546.4 386.04,540.9" fill="none" stroke="#238b45" stroke-width="1.4"/><polygon points="390.29,535.6 394.29,541.1 390.29,546.6 386.29,541.1" fill="none" stroke="#238b45" stroke-width="1.4"/><polygon points="390.54,535.79 394.54,541.29 390.54,546.79 386.54,541.29" fill="none" stroke="#238b45" stroke-width="1.4"/><polygon points="390.79,535.99 394.79,541.49 390.79,546.99 386.79,541.49" fill="none" stroke="#238b45" stroke-width="1.4"/><polygon points="391.04,536.18 395.04,541.68 391.04,547.18 387.04,541.68" fill="none" stroke="#238b45" stroke-width="1.4"/><polygon points="391.29,536.37 395.29,541.87 391.29,547.37 387.29,541.87" fill="none" stroke="#238b45" stroke-width="1.4"/><polygon points="391.53,536.56 395.53,542.06 391.53,547.56 387.53,542.06" fill="none" stroke="#238b45" stroke-width="1.4"/><polygon points="391.77,536.74 395.77,542.24 391.77,547.74 387.77,542.24" fill="none" stroke="#238b45" stroke-width="1.4"/><polygon points="392.02,536.93 396.02,542.43 392.02,547.93 388.02,542.43" fill="none" stroke="#238b45" stroke-width="1.4"/><polygon points="392.26,537.11 396.26,542.61 392.26,548.11 388.26,542.61" fill="none" stroke="#238b45" stroke-width="1.4"/><polygon points="392.49,537.3 396.49,542.8 392.49,548.3 388.49,542.8" fill="none" stroke="#238b45" stroke-width="1.4"/><polygon points="392.73,537.48 396.73,542.98 392.73,548.48 388.73,542.98" fill="none" stroke="#238b45" stroke-width="1.4"/><polygon points="392.96,537.66 396.96,543.16 392.96,548.66 388.96,543.16" fill="none" stroke="#238b45" stroke-width="1.4"/><polygon points="393.2,537.84 397.2,543.34 393.2,548.84 389.2,543.34" fill="none" stroke="#238b45" stroke-width="1.4"/><polygon points="393.43,538.02 397.43,543.52 393.43,549.02 389.43,543.52" fill="none" stroke="#238b45" stroke-width="1.4"/><polygon points="393.66,538.2 397.66,543.7 393.66,549.2 389.66,543.7" fill="none" stroke="#238b45" stroke-width="1.4"/><polygon points="393.89,538.37 397.89,543.87 393.89,549.37 389.89,543.87" fill="none" stroke="#238b45" stroke-width="1.4"/><polygon points="394.12,538.55 398.12,544.05 394.12,549.55 390.12,544.05" fill="none" stroke="#238b45" stroke-width="1.4"/><polygon points="394.34,538.72 398.34,544.22 394.34,549.72 390.34,544.22" fill="none" stroke="#238b45" stroke-width="1.4"/><polygon points="394.57,538.9 398.57,544.4 394.57,549.9 390.57,544.4" fill="none" stroke="#238b45" stroke-width="1.4"/><polygon points="394.79,539.07 398.79,544.57 394.79,550.07 390.79,544.57" fill="none" stroke="#238b45" stroke-width="1.4"/><polygon points="395.01,539.24 399.01,544.74 395.01,550.24 391.01,544.74" fill="none" stroke="#238b45" stroke-width="1.4"/><polygon points="395.23,539.41 399.23,544.91 395.23,550.41 391.23,544.91" fill="none" stroke="#238b45" stroke-width="1.4"/><polygon points="395.45,539.58 399.45,545.08 395.45,550.58 391.45,545.08" fill="none" stroke="#238b45" stroke-width="1.4"/><polygon points="395.67,539.75 399.67,545.25 395.67,550.75 391.67,545.25" fill="none" stroke="#238b45" stroke-width="1.4"/><polygon points="395.89,539.92 399.89,545.42 395.89,550.92 391.89,545.42" fill="none" stroke="#238b45" stroke-width="1.4"/><polygon points="396.1,540.08 400.1,545.58 396.1,551.08 392.1,545.58" fill="none" stroke="#238b45" stroke-width="1.4"/><polygon points="396.31,540.25 400.31,545.75 396.31,551.25 392.31,545.75" fill="none" stroke="#238b45" stroke-width="1.4"/><polygon points="396.53,540.41 400.53,545.91 396.53,551.41 392.53,545.91" fill="none" stroke="#238b45" stroke-width="1.4"/><polygon points="396.74,540.57 400.74,546.07 396.74,551.57 392.74,546.07" fill="none" stroke="#238b45" stroke-width="1.4"/><polygon points="396.95,540.74 400.95,546.24 396.95,551.74 392.95,546.24" fill="none" stroke="#238b45" stroke-width="1.4"/><polygon points="397.16,540.9 401.16,546.4 397.16,551.9 393.16,546.4" fill="none" stroke="#238b45" stroke-width="1.4"/><polygon points="397.37,541.06 401.37,546.56 397.37,552.06 393.37,546.56" fill="none" stroke="#238b45" stroke-width="1.4"/><polygon points="397.57,541.22 401.57,546.72 397.57,552.22 393.57,546.72" fill="none" stroke="#238b45" stroke-width="1.4"/><polygon points="397.78,541.38 401.78,546.88 397.78,552.38 393.78,546.88" fill="none" stroke="#238b45" stroke-width="1.4"/><polygon points="397.98,541.53 401.98,547.03 397.98,552.53 393.98,547.03" fill="none" stroke="#238b45" stroke-width="1.4"/><polygon points="398.18,541.69 402.18,547.19 398.18,552.69 394.18,547.19" fill="none" stroke="#238b45" stroke-width="1.4"/><polygon points="398.39,541.85 402.39,547.35 398.39,552.85 394.39,547.35" fill="none" stroke="#238b45" stroke-width="1.4"/><polygon points="398.59,542 402.59,547.5 398.59,553 394.59,547.5" fill="none" stroke="#238b45" stroke-width="1.4"/><polygon points="398.79,542.16 402.79,547.66 398.79,553.16 394.79,547.66" fill="none" stroke="#238b45" stroke-width="1.4"/><polygon points="398.99,542.31 402.99,547.81 398.99,553.31 394.99,547.81" fill="none" stroke="#238b45" stroke-width="1.4"/><polygon points="399.18,542.46 403.18,547.96 399.18,553.46 395.18,547.96" fill="none" stroke="#238b45" stroke-width="1.4"/><polygon points="399.38,542.61 403.38,548.11 399.38,553.61 395.38,548.11" fill="none" stroke="#238b45" stroke-width="1.4"/><polygon points="399.58,542.76 403.58,548.26 399.58,553.76 395.58,548.26" fill="none" stroke="#238b45" stroke-width="1.4"/><polygon points="399.77,542.91 403.77,548.41 399.77,553.91 395.77,548.41" fill="none" stroke="#238b45" stroke-width="1.4"/><polygon points="399.96,543.06 403.96,548.56 399.96,554.06 395.96,548.56" fill="none" stroke="#238b45" stroke-width="1.4"/><polygon points="400.16,543.21 404.16,548.71 400.16,554.21 396.16,548.71" fill="none" stroke="#238b45" stroke-width="1.4"/><polygon points="400.35,543.36 404.35,548.86 400.35,554.36 396.35,548.86" fill="none" stroke="#238b45" stroke-width="1.4"/><polygon points="400.54,543.51 404.54,549.01 400.54,554.51 396.54,549.01" fill="none" stroke="#238b45" stroke-width="1.4"/><polygon points="400.73,543.65 404.73,549.15 400.73,554.65 396.73,549.15" fill="none" stroke="#238b45" stroke-width="1.4"/><polygon points="400.91,543.8 404.91,549.3 400.91,554.8 396.91,549.3" fill="none" stroke="#238b45" stroke-width="1.4"/><polygon points="401.1,543.94 405.1,549.44 401.1,554.94 397.1,549.44" fill="none" stroke="#238b45" stroke-width="1.4"/><polygon points="401.29,544.09 405.29,549.59 401.29,555.09 397.29,549.59" fill="none" stroke="#238b45" stroke-width="1.4"/><polygon points="401.47,544.23 405.47,549.73 401.47,555.23 397.47,549.73" fill="none" stroke="#238b45" stroke-width="1.4"/><polygon points="401.66,544.37 405.66,549.87 401.66,555.37 397.66,549.87" fill="none" stroke="#238b45" stroke-width="1.4"/><polygon points="401.84,544.51 405.84,550.01 401.84,555.51 397.84,550.01" fill="none" stroke="#238b45" stroke-width="1.4"/><polygon points="402.02,544.65 406.02,550.15 402.02,555.65 398.02,550.15" fill="none" stroke="#238b45" stroke-width="1.4"/><polygon points="402.2,544.79 406.2,550.29 402.2,555.79 398.2,550.29" fill="none" stroke="#238b45" stroke-width="1.4"/><polygon points="402.39,544.93 406.39,550.43 402.39,555.93 398.39,550.43" fill="none" stroke="#238b45" stroke-width="1.4"/></g><polyline points="213.1,358.5 250,395.4 260,418.3 268.5,425 275.3,476 281,447 286.1,468 290.1,460.7 294.1,468 296.4,466.4 299.2,470.3 402.6,549.8" fill="none" stroke="#000" stroke-width="2.0" stroke-linejoin="round" /><rect x="211.4" y="358.4" width="190.6" height="191.1" fill="none" stroke="#000" stroke-width="2"/><path d="M191.37 596.3v-6M191.37 92v6M226.62 596.3v-6M226.62 92v6M251.63 596.3v-6M251.63 92v6M271.03 596.3v-6M271.03 92v6M286.89 596.3v-6M286.89 92v6M300.29 596.3v-6M300.29 92v6M311.9 596.3v-6M311.9 92v6M322.14 596.3v-6M322.14 92v6M331.3 596.3v-10M331.3 92v10M391.57 596.3v-6M391.57 92v6M426.82 596.3v-6M426.82 92v6M451.83 596.3v-6M451.83 92v6M471.23 596.3v-6M471.23 92v6M487.09 596.3v-6M487.09 92v6M500.49 596.3v-6M500.49 92v6M512.1 596.3v-6M512.1 92v6M522.34 596.3v-6M522.34 92v6M531.5 596.3v-10M531.5 92v10M131.1 581.12h6M592 581.12h-6M131.1 572.24h6M592 572.24h-6M131.1 565.94h6M592 565.94h-6M131.1 561.05h6M592 561.05h-6M131.1 557.06h6M592 557.06h-6M131.1 553.68h6M592 553.68h-6M131.1 550.76h6M592 550.76h-6M131.1 548.18h6M592 548.18h-6M131.1 545.87h10M592 545.87h-10M131.1 530.69h6M592 530.69h-6M131.1 521.81h6M592 521.81h-6M131.1 515.51h6M592 515.51h-6M131.1 510.62h6M592 510.62h-6M131.1 506.63h6M592 506.63h-6M131.1 503.25h6M592 503.25h-6M131.1 500.33h6M592 500.33h-6M131.1 497.75h6M592 497.75h-6M131.1 495.44h10M592 495.44h-10M131.1 480.26h6M592 480.26h-6M131.1 471.38h6M592 471.38h-6M131.1 465.08h6M592 465.08h-6M131.1 460.19h6M592 460.19h-6M131.1 456.2h6M592 456.2h-6M131.1 452.82h6M592 452.82h-6M131.1 449.9h6M592 449.9h-6M131.1 447.32h6M592 447.32h-6M131.1 445.01h10M592 445.01h-10M131.1 429.83h6M592 429.83h-6M131.1 420.95h6M592 420.95h-6M131.1 414.65h6M592 414.65h-6M131.1 409.76h6M592 409.76h-6M131.1 405.77h6M592 405.77h-6M131.1 402.39h6M592 402.39h-6M131.1 399.47h6M592 399.47h-6M131.1 396.89h6M592 396.89h-6M131.1 394.58h10M592 394.58h-10M131.1 379.4h6M592 379.4h-6M131.1 370.52h6M592 370.52h-6M131.1 364.22h6M592 364.22h-6M131.1 359.33h6M592 359.33h-6M131.1 355.34h6M592 355.34h-6M131.1 351.96h6M592 351.96h-6M131.1 349.04h6M592 349.04h-6M131.1 346.46h6M592 346.46h-6M131.1 344.15h10M592 344.15h-10M131.1 328.97h6M592 328.97h-6M131.1 320.09h6M592 320.09h-6M131.1 313.79h6M592 313.79h-6M131.1 308.9h6M592 308.9h-6M131.1 304.91h6M592 304.91h-6M131.1 301.53h6M592 301.53h-6M131.1 298.61h6M592 298.61h-6M131.1 296.03h6M592 296.03h-6M131.1 293.72h10M592 293.72h-10M131.1 278.54h6M592 278.54h-6M131.1 269.66h6M592 269.66h-6M131.1 263.36h6M592 263.36h-6M131.1 258.47h6M592 258.47h-6M131.1 254.48h6M592 254.48h-6M131.1 251.1h6M592 251.1h-6M131.1 248.18h6M592 248.18h-6M131.1 245.6h6M592 245.6h-6M131.1 243.29h10M592 243.29h-10M131.1 228.11h6M592 228.11h-6M131.1 219.23h6M592 219.23h-6M131.1 212.93h6M592 212.93h-6M131.1 208.04h6M592 208.04h-6M131.1 204.05h6M592 204.05h-6M131.1 200.67h6M592 200.67h-6M131.1 197.75h6M592 197.75h-6M131.1 195.17h6M592 195.17h-6M131.1 192.86h10M592 192.86h-10M131.1 177.68h6M592 177.68h-6M131.1 168.8h6M592 168.8h-6M131.1 162.5h6M592 162.5h-6M131.1 157.61h6M592 157.61h-6M131.1 153.62h6M592 153.62h-6M131.1 150.24h6M592 150.24h-6M131.1 147.32h6M592 147.32h-6M131.1 144.74h6M592 144.74h-6M131.1 142.43h10M592 142.43h-10M131.1 127.25h6M592 127.25h-6M131.1 118.37h6M592 118.37h-6M131.1 112.07h6M592 112.07h-6M131.1 107.18h6M592 107.18h-6M131.1 103.19h6M592 103.19h-6M131.1 99.81h6M592 99.81h-6M131.1 96.89h6M592 96.89h-6M131.1 94.31h6M592 94.31h-6" stroke="#000" stroke-width="1.7" fill="none"/><rect x="131.1" y="92.0" width="460.9" height="504.3" fill="none" stroke="#000" stroke-width="2"/><polyline points="786.3,95.5 867.58,111.5 915.12,156.6 948.86,168 975.02,180.7 996.4,188 1014.48,193.6 1030.13,199.8 1043.95,205.5 1056.3,209.5 1067.48,214.5 1077.68,218.6 1087.06,221.8 1095.75,225.9 1103.84,230.25 1111.41,234.35 1118.52,238.25 1125.22,241.97 1131.56,245.53 1137.58,248.95 1143.3,252.24 1148.75,255.42 1153.97,258.49 1158.96,261.47 1163.74,264.35" fill="none" stroke="#9ecae1" stroke-width="1.6" stroke-linejoin="round" /><polygon points="786.3,85.3 793.8,95.5 786.3,105.7 778.8,95.5" fill="none" stroke="#9ecae1" stroke-width="1.4"/><polygon points="867.58,101.3 875.08,111.5 867.58,121.7 860.08,111.5" fill="none" stroke="#9ecae1" stroke-width="1.4"/><polygon points="915.12,146.4 922.62,156.6 915.12,166.8 907.62,156.6" fill="none" stroke="#9ecae1" stroke-width="1.4"/><polygon points="948.86,157.8 956.36,168 948.86,178.2 941.36,168" fill="none" stroke="#9ecae1" stroke-width="1.4"/><polygon points="975.02,170.5 982.52,180.7 975.02,190.9 967.52,180.7" fill="none" stroke="#9ecae1" stroke-width="1.4"/><polygon points="996.4,177.8 1003.9,188 996.4,198.2 988.9,188" fill="none" stroke="#9ecae1" stroke-width="1.4"/><polygon points="1014.48,183.4 1021.98,193.6 1014.48,203.8 1006.98,193.6" fill="none" stroke="#9ecae1" stroke-width="1.4"/><polygon points="1030.13,189.6 1037.63,199.8 1030.13,210 1022.63,199.8" fill="none" stroke="#9ecae1" stroke-width="1.4"/><polygon points="1043.95,195.3 1051.45,205.5 1043.95,215.7 1036.45,205.5" fill="none" stroke="#9ecae1" stroke-width="1.4"/><polygon points="1056.3,199.3 1063.8,209.5 1056.3,219.7 1048.8,209.5" fill="none" stroke="#9ecae1" stroke-width="1.4"/><polygon points="1067.48,204.3 1074.98,214.5 1067.48,224.7 1059.98,214.5" fill="none" stroke="#9ecae1" stroke-width="1.4"/><polygon points="1077.68,208.4 1085.18,218.6 1077.68,228.8 1070.18,218.6" fill="none" stroke="#9ecae1" stroke-width="1.4"/><polygon points="1087.06,211.6 1094.56,221.8 1087.06,232 1079.56,221.8" fill="none" stroke="#9ecae1" stroke-width="1.4"/><polygon points="1095.75,215.7 1103.25,225.9 1095.75,236.1 1088.25,225.9" fill="none" stroke="#9ecae1" stroke-width="1.4"/><polygon points="1103.84,220.05 1111.34,230.25 1103.84,240.45 1096.34,230.25" fill="none" stroke="#9ecae1" stroke-width="1.4"/><polygon points="1111.41,224.15 1118.91,234.35 1111.41,244.55 1103.91,234.35" fill="none" stroke="#9ecae1" stroke-width="1.4"/><polygon points="1118.52,228.05 1126.02,238.25 1118.52,248.45 1111.02,238.25" fill="none" stroke="#9ecae1" stroke-width="1.4"/><polygon points="1125.22,231.77 1132.72,241.97 1125.22,252.17 1117.72,241.97" fill="none" stroke="#9ecae1" stroke-width="1.4"/><polygon points="1131.56,235.33 1139.06,245.53 1131.56,255.73 1124.06,245.53" fill="none" stroke="#9ecae1" stroke-width="1.4"/><polygon points="1137.58,238.75 1145.08,248.95 1137.58,259.15 1130.08,248.95" fill="none" stroke="#9ecae1" stroke-width="1.4"/><polygon points="1143.3,242.04 1150.8,252.24 1143.3,262.44 1135.8,252.24" fill="none" stroke="#9ecae1" stroke-width="1.4"/><polygon points="1148.75,245.22 1156.25,255.42 1148.75,265.62 1141.25,255.42" fill="none" stroke="#9ecae1" stroke-width="1.4"/><polygon points="1153.97,248.29 1161.47,258.49 1153.97,268.69 1146.47,258.49" fill="none" stroke="#9ecae1" stroke-width="1.4"/><polygon points="1158.96,251.27 1166.46,261.47 1158.96,271.67 1151.46,261.47" fill="none" stroke="#9ecae1" stroke-width="1.4"/><polygon points="1163.74,254.15 1171.24,264.35 1163.74,274.55 1156.24,264.35" fill="none" stroke="#9ecae1" stroke-width="1.4"/><polyline points="786.3,96 867.58,110.5 915.12,179.3 948.86,182.2 975.02,202 996.4,211 1014.48,218 1030.13,226 1043.95,230.5 1056.3,238.4 1067.48,244.68 1077.68,250.35 1087.06,255.61 1095.75,260.5 1103.84,265.1 1111.41,269.42 1118.52,273.51 1125.22,277.39 1131.56,281.09 1137.58,284.62 1143.3,288 1148.75,291.25 1153.97,294.37 1158.96,297.37 1163.74,300.28 1168.34,303.08" fill="none" stroke="#6baed6" stroke-width="1.6" stroke-linejoin="round" /><polygon points="786.3,103.36 777.8,88.64 794.8,88.64" fill="none" stroke="#6baed6" stroke-width="1.4"/><polygon points="867.58,117.86 859.08,103.14 876.08,103.14" fill="none" stroke="#6baed6" stroke-width="1.4"/><polygon points="915.12,186.66 906.62,171.94 923.62,171.94" fill="none" stroke="#6baed6" stroke-width="1.4"/><polygon points="948.86,189.56 940.36,174.84 957.36,174.84" fill="none" stroke="#6baed6" stroke-width="1.4"/><polygon points="975.02,209.36 966.52,194.64 983.52,194.64" fill="none" stroke="#6baed6" stroke-width="1.4"/><polygon points="996.4,218.36 987.9,203.64 1004.9,203.64" fill="none" stroke="#6baed6" stroke-width="1.4"/><polygon points="1014.48,225.36 1005.98,210.64 1022.98,210.64" fill="none" stroke="#6baed6" stroke-width="1.4"/><polygon points="1030.13,233.36 1021.63,218.64 1038.63,218.64" fill="none" stroke="#6baed6" stroke-width="1.4"/><polygon points="1043.95,237.86 1035.45,223.14 1052.45,223.14" fill="none" stroke="#6baed6" stroke-width="1.4"/><polygon points="1056.3,245.76 1047.8,231.04 1064.8,231.04" fill="none" stroke="#6baed6" stroke-width="1.4"/><polygon points="1067.48,252.04 1058.98,237.32 1075.98,237.32" fill="none" stroke="#6baed6" stroke-width="1.4"/><polygon points="1077.68,257.71 1069.18,242.99 1086.18,242.99" fill="none" stroke="#6baed6" stroke-width="1.4"/><polygon points="1087.06,262.97 1078.56,248.25 1095.56,248.25" fill="none" stroke="#6baed6" stroke-width="1.4"/><polygon points="1095.75,267.87 1087.25,253.14 1104.25,253.14" fill="none" stroke="#6baed6" stroke-width="1.4"/><polygon points="1103.84,272.46 1095.34,257.73 1112.34,257.73" fill="none" stroke="#6baed6" stroke-width="1.4"/><polygon points="1111.41,276.78 1102.91,262.06 1119.91,262.06" fill="none" stroke="#6baed6" stroke-width="1.4"/><polygon points="1118.52,280.87 1110.02,266.15 1127.02,266.15" fill="none" stroke="#6baed6" stroke-width="1.4"/><polygon points="1125.22,284.75 1116.72,270.03 1133.72,270.03" fill="none" stroke="#6baed6" stroke-width="1.4"/><polygon points="1131.56,288.45 1123.06,273.73 1140.06,273.73" fill="none" stroke="#6baed6" stroke-width="1.4"/><polygon points="1137.58,291.98 1129.08,277.26 1146.08,277.26" fill="none" stroke="#6baed6" stroke-width="1.4"/><polygon points="1143.3,295.36 1134.8,280.64 1151.8,280.64" fill="none" stroke="#6baed6" stroke-width="1.4"/><polygon points="1148.75,298.61 1140.25,283.88 1157.25,283.88" fill="none" stroke="#6baed6" stroke-width="1.4"/><polygon points="1153.97,301.73 1145.47,287 1162.47,287" fill="none" stroke="#6baed6" stroke-width="1.4"/><polygon points="1158.96,304.73 1150.46,290.01 1167.46,290.01" fill="none" stroke="#6baed6" stroke-width="1.4"/><polygon points="1163.74,307.64 1155.24,292.92 1172.24,292.92" fill="none" stroke="#6baed6" stroke-width="1.4"/><polygon points="1168.34,310.44 1159.84,295.72 1176.84,295.72" fill="none" stroke="#6baed6" stroke-width="1.4"/><polyline points="786.3,95 867.58,97.5 915.12,210.2 948.86,213.4 975.02,312.3 996.4,275.4 1014.48,307 1030.13,310.5 1043.95,325.2 1056.3,333.2 1067.48,342.3 1077.68,351.4 1087.06,360.5 1095.75,369.5 1103.84,376.54 1111.41,383.23 1118.52,389.57 1125.22,395.58 1131.56,401.3 1137.58,406.77 1143.3,412 1148.75,417.03 1153.97,421.86 1158.96,426.52 1163.74,431.02" fill="none" stroke="#4292c6" stroke-width="1.6" stroke-linejoin="round" /><rect x="776.7" y="85.4" width="19.2" height="19.2" fill="none" stroke="#4292c6" stroke-width="1.4"/><rect x="857.98" y="87.9" width="19.2" height="19.2" fill="none" stroke="#4292c6" stroke-width="1.4"/><rect x="905.52" y="200.6" width="19.2" height="19.2" fill="none" stroke="#4292c6" stroke-width="1.4"/><rect x="939.26" y="203.8" width="19.2" height="19.2" fill="none" stroke="#4292c6" stroke-width="1.4"/><rect x="965.42" y="302.7" width="19.2" height="19.2" fill="none" stroke="#4292c6" stroke-width="1.4"/><rect x="986.8" y="265.8" width="19.2" height="19.2" fill="none" stroke="#4292c6" stroke-width="1.4"/><rect x="1004.88" y="297.4" width="19.2" height="19.2" fill="none" stroke="#4292c6" stroke-width="1.4"/><rect x="1020.53" y="300.9" width="19.2" height="19.2" fill="none" stroke="#4292c6" stroke-width="1.4"/><rect x="1034.35" y="315.6" width="19.2" height="19.2" fill="none" stroke="#4292c6" stroke-width="1.4"/><rect x="1046.7" y="323.6" width="19.2" height="19.2" fill="none" stroke="#4292c6" stroke-width="1.4"/><rect x="1057.88" y="332.7" width="19.2" height="19.2" fill="none" stroke="#4292c6" stroke-width="1.4"/><rect x="1068.08" y="341.8" width="19.2" height="19.2" fill="none" stroke="#4292c6" stroke-width="1.4"/><rect x="1077.46" y="350.9" width="19.2" height="19.2" fill="none" stroke="#4292c6" stroke-width="1.4"/><rect x="1086.15" y="359.9" width="19.2" height="19.2" fill="none" stroke="#4292c6" stroke-width="1.4"/><rect x="1094.24" y="366.94" width="19.2" height="19.2" fill="none" stroke="#4292c6" stroke-width="1.4"/><rect x="1101.81" y="373.63" width="19.2" height="19.2" fill="none" stroke="#4292c6" stroke-width="1.4"/><rect x="1108.92" y="379.97" width="19.2" height="19.2" fill="none" stroke="#4292c6" stroke-width="1.4"/><rect x="1115.62" y="385.98" width="19.2" height="19.2" fill="none" stroke="#4292c6" stroke-width="1.4"/><rect x="1121.96" y="391.7" width="19.2" height="19.2" fill="none" stroke="#4292c6" stroke-width="1.4"/><rect x="1127.98" y="397.17" width="19.2" height="19.2" fill="none" stroke="#4292c6" stroke-width="1.4"/><rect x="1133.7" y="402.4" width="19.2" height="19.2" fill="none" stroke="#4292c6" stroke-width="1.4"/><rect x="1139.15" y="407.43" width="19.2" height="19.2" fill="none" stroke="#4292c6" stroke-width="1.4"/><rect x="1144.37" y="412.26" width="19.2" height="19.2" fill="none" stroke="#4292c6" stroke-width="1.4"/><rect x="1149.36" y="416.92" width="19.2" height="19.2" fill="none" stroke="#4292c6" stroke-width="1.4"/><rect x="1154.14" y="421.42" width="19.2" height="19.2" fill="none" stroke="#4292c6" stroke-width="1.4"/><polyline points="786.3,95 867.58,97 915.12,207.9 948.86,218.8 975.02,310.3 996.4,291.3 1014.48,357 1030.13,338.5 1043.95,364 1056.3,369.3 1067.48,379.5 1077.68,387 1087.06,395 1095.75,403 1103.84,413.74 1111.41,421.07 1118.52,428.22 1125.22,435.25 1131.56,442.19 1137.58,449.08 1143.3,455.95 1148.75,462.82 1153.97,469.72 1158.96,476.66 1163.74,483.67" fill="none" stroke="#2171b5" stroke-width="1.6" stroke-linejoin="round" /><circle cx="786.3" cy="95" r="9.5" fill="none" stroke="#2171b5" stroke-width="1.4"/><circle cx="867.58" cy="97" r="9.5" fill="none" stroke="#2171b5" stroke-width="1.4"/><circle cx="915.12" cy="207.9" r="9.5" fill="none" stroke="#2171b5" stroke-width="1.4"/><circle cx="948.86" cy="218.8" r="9.5" fill="none" stroke="#2171b5" stroke-width="1.4"/><circle cx="975.02" cy="310.3" r="9.5" fill="none" stroke="#2171b5" stroke-width="1.4"/><circle cx="996.4" cy="291.3" r="9.5" fill="none" stroke="#2171b5" stroke-width="1.4"/><circle cx="1014.48" cy="357" r="9.5" fill="none" stroke="#2171b5" stroke-width="1.4"/><circle cx="1030.13" cy="338.5" r="9.5" fill="none" stroke="#2171b5" stroke-width="1.4"/><circle cx="1043.95" cy="364" r="9.5" fill="none" stroke="#2171b5" stroke-width="1.4"/><circle cx="1056.3" cy="369.3" r="9.5" fill="none" stroke="#2171b5" stroke-width="1.4"/><circle cx="1067.48" cy="379.5" r="9.5" fill="none" stroke="#2171b5" stroke-width="1.4"/><circle cx="1077.68" cy="387" r="9.5" fill="none" stroke="#2171b5" stroke-width="1.4"/><circle cx="1087.06" cy="395" r="9.5" fill="none" stroke="#2171b5" stroke-width="1.4"/><circle cx="1095.75" cy="403" r="9.5" fill="none" stroke="#2171b5" stroke-width="1.4"/><circle cx="1103.84" cy="413.74" r="9.5" fill="none" stroke="#2171b5" stroke-width="1.4"/><circle cx="1111.41" cy="421.07" r="9.5" fill="none" stroke="#2171b5" stroke-width="1.4"/><circle cx="1118.52" cy="428.22" r="9.5" fill="none" stroke="#2171b5" stroke-width="1.4"/><circle cx="1125.22" cy="435.25" r="9.5" fill="none" stroke="#2171b5" stroke-width="1.4"/><circle cx="1131.56" cy="442.19" r="9.5" fill="none" stroke="#2171b5" stroke-width="1.4"/><circle cx="1137.58" cy="449.08" r="9.5" fill="none" stroke="#2171b5" stroke-width="1.4"/><circle cx="1143.3" cy="455.95" r="9.5" fill="none" stroke="#2171b5" stroke-width="1.4"/><circle cx="1148.75" cy="462.82" r="9.5" fill="none" stroke="#2171b5" stroke-width="1.4"/><circle cx="1153.97" cy="469.72" r="9.5" fill="none" stroke="#2171b5" stroke-width="1.4"/><circle cx="1158.96" cy="476.66" r="9.5" fill="none" stroke="#2171b5" stroke-width="1.4"/><circle cx="1163.74" cy="483.67" r="9.5" fill="none" stroke="#2171b5" stroke-width="1.4"/><polyline points="786.3,92 867.58,93 915.12,210 948.86,223.8 975.02,294 996.4,301 1014.48,417.5 1030.13,355.5 1043.95,401.9 1056.3,395.6 1067.48,420.6 1077.68,423.7 1087.06,434.7 1095.75,441 1103.84,450.9 1111.41,459.14 1118.52,466.89 1125.22,474.21 1131.56,481.15 1137.58,487.75 1143.3,494.04 1148.75,500.05 1153.97,505.81 1158.96,537.33 1163.74,539.64" fill="none" stroke="#08519c" stroke-width="1.6" stroke-linejoin="round" /><polygon points="786.3,84.64 777.8,99.36 794.8,99.36" fill="none" stroke="#08519c" stroke-width="1.4"/><polygon points="867.58,85.64 859.08,100.36 876.08,100.36" fill="none" stroke="#08519c" stroke-width="1.4"/><polygon points="915.12,202.64 906.62,217.36 923.62,217.36" fill="none" stroke="#08519c" stroke-width="1.4"/><polygon points="948.86,216.44 940.36,231.16 957.36,231.16" fill="none" stroke="#08519c" stroke-width="1.4"/><polygon points="975.02,286.64 966.52,301.36 983.52,301.36" fill="none" stroke="#08519c" stroke-width="1.4"/><polygon points="996.4,293.64 987.9,308.36 1004.9,308.36" fill="none" stroke="#08519c" stroke-width="1.4"/><polygon points="1014.48,410.14 1005.98,424.86 1022.98,424.86" fill="none" stroke="#08519c" stroke-width="1.4"/><polygon points="1030.13,348.14 1021.63,362.86 1038.63,362.86" fill="none" stroke="#08519c" stroke-width="1.4"/><polygon points="1043.95,394.54 1035.45,409.26 1052.45,409.26" fill="none" stroke="#08519c" stroke-width="1.4"/><polygon points="1056.3,388.24 1047.8,402.96 1064.8,402.96" fill="none" stroke="#08519c" stroke-width="1.4"/><polygon points="1067.48,413.24 1058.98,427.96 1075.98,427.96" fill="none" stroke="#08519c" stroke-width="1.4"/><polygon points="1077.68,416.34 1069.18,431.06 1086.18,431.06" fill="none" stroke="#08519c" stroke-width="1.4"/><polygon points="1087.06,427.34 1078.56,442.06 1095.56,442.06" fill="none" stroke="#08519c" stroke-width="1.4"/><polygon points="1095.75,433.64 1087.25,448.36 1104.25,448.36" fill="none" stroke="#08519c" stroke-width="1.4"/><polygon points="1103.84,443.54 1095.34,458.27 1112.34,458.27" fill="none" stroke="#08519c" stroke-width="1.4"/><polygon points="1111.41,451.78 1102.91,466.5 1119.91,466.5" fill="none" stroke="#08519c" stroke-width="1.4"/><polygon points="1118.52,459.53 1110.02,474.25 1127.02,474.25" fill="none" stroke="#08519c" stroke-width="1.4"/><polygon points="1125.22,466.85 1116.72,481.57 1133.72,481.57" fill="none" stroke="#08519c" stroke-width="1.4"/><polygon points="1131.56,473.79 1123.06,488.51 1140.06,488.51" fill="none" stroke="#08519c" stroke-width="1.4"/><polygon points="1137.58,480.39 1129.08,495.11 1146.08,495.11" fill="none" stroke="#08519c" stroke-width="1.4"/><polygon points="1143.3,486.68 1134.8,501.4 1151.8,501.4" fill="none" stroke="#08519c" stroke-width="1.4"/><polygon points="1148.75,492.69 1140.25,507.42 1157.25,507.42" fill="none" stroke="#08519c" stroke-width="1.4"/><polygon points="1153.97,498.45 1145.47,513.17 1162.47,513.17" fill="none" stroke="#08519c" stroke-width="1.4"/><polygon points="1158.96,529.97 1150.46,544.69 1167.46,544.69" fill="none" stroke="#08519c" stroke-width="1.4"/><polygon points="1163.74,532.28 1155.24,547 1172.24,547" fill="none" stroke="#08519c" stroke-width="1.4"/><polyline points="786.3,92.1 1185.2,265.9" fill="none" stroke="#000" stroke-width="2.3" stroke-linejoin="round" /><polyline points="786.3,99.5 1185.2,303.4" fill="none" stroke="#000" stroke-width="2.3" stroke-linejoin="round" /><polyline points="786.3,120.5 1185,435.3" fill="none" stroke="#000" stroke-width="2.3" stroke-linejoin="round" /><polyline points="786.3,124.8 1185,491.2" fill="none" stroke="#000" stroke-width="2.3" stroke-linejoin="round" /><polyline points="786.3,127.6 1185,547" fill="none" stroke="#000" stroke-width="2.3" stroke-linejoin="round" /><polygon points="992.5,397.84 984,412.56 1001,412.56" fill="none" stroke="#08519c" stroke-width="1.5"/><circle cx="992.4" cy="447.1" r="9.6" fill="none" stroke="#2171b5" stroke-width="1.5"/><rect x="982.8" y="477.3" width="19.2" height="19.2" fill="none" stroke="#4292c6" stroke-width="1.5"/><polygon points="992.4,536.96 983.9,522.24 1000.9,522.24" fill="none" stroke="#6baed6" stroke-width="1.5"/><polygon points="992.3,555.5 999.8,565.7 992.3,575.9 984.8,565.7" fill="none" stroke="#9ecae1" stroke-width="1.5"/><path d="M867.58 596.5v-5M867.58 92v5M915.12 596.5v-5M915.12 92v5M948.86 596.5v-5M948.86 92v5M975.02 596.5v-5M975.02 92v5M996.4 596.5v-5M996.4 92v5M1014.48 596.5v-5M1014.48 92v5M1030.13 596.5v-5M1030.13 92v5M1043.95 596.5v-5M1043.95 92v5M1056.3 596.5v-10M1056.3 92v10M1137.58 596.5v-5M1137.58 92v5M1185.12 596.5v-5M1185.12 92v5M1218.86 596.5v-5M1218.86 92v5M1245.02 596.5v-5M1245.02 92v5M786.3 575h5M1247 575h-5M786.3 562.42h5M1247 562.42h-5M786.3 553.5h5M1247 553.5h-5M786.3 546.58h5M1247 546.58h-5M786.3 540.92h5M1247 540.92h-5M786.3 536.14h5M1247 536.14h-5M786.3 532h5M1247 532h-5M786.3 528.35h5M1247 528.35h-5M786.3 525.08h10M1247 525.08h-10M786.3 503.58h5M1247 503.58h-5M786.3 491h5M1247 491h-5M786.3 482.08h5M1247 482.08h-5M786.3 475.16h5M1247 475.16h-5M786.3 469.5h5M1247 469.5h-5M786.3 464.72h5M1247 464.72h-5M786.3 460.58h5M1247 460.58h-5M786.3 456.93h5M1247 456.93h-5M786.3 453.66h10M1247 453.66h-10M786.3 432.16h5M1247 432.16h-5M786.3 419.58h5M1247 419.58h-5M786.3 410.66h5M1247 410.66h-5M786.3 403.74h5M1247 403.74h-5M786.3 398.08h5M1247 398.08h-5M786.3 393.3h5M1247 393.3h-5M786.3 389.16h5M1247 389.16h-5M786.3 385.51h5M1247 385.51h-5M786.3 382.24h10M1247 382.24h-10M786.3 360.74h5M1247 360.74h-5M786.3 348.16h5M1247 348.16h-5M786.3 339.24h5M1247 339.24h-5M786.3 332.32h5M1247 332.32h-5M786.3 326.66h5M1247 326.66h-5M786.3 321.88h5M1247 321.88h-5M786.3 317.74h5M1247 317.74h-5M786.3 314.09h5M1247 314.09h-5M786.3 310.82h10M1247 310.82h-10M786.3 289.32h5M1247 289.32h-5M786.3 276.74h5M1247 276.74h-5M786.3 267.82h5M1247 267.82h-5M786.3 260.9h5M1247 260.9h-5M786.3 255.24h5M1247 255.24h-5M786.3 250.46h5M1247 250.46h-5M786.3 246.32h5M1247 246.32h-5M786.3 242.67h5M1247 242.67h-5M786.3 239.4h10M1247 239.4h-10M786.3 217.9h5M1247 217.9h-5M786.3 205.32h5M1247 205.32h-5M786.3 196.4h5M1247 196.4h-5M786.3 189.48h5M1247 189.48h-5M786.3 183.82h5M1247 183.82h-5M786.3 179.04h5M1247 179.04h-5M786.3 174.9h5M1247 174.9h-5M786.3 171.25h5M1247 171.25h-5M786.3 167.98h10M1247 167.98h-10M786.3 146.48h5M1247 146.48h-5M786.3 133.9h5M1247 133.9h-5M786.3 124.98h5M1247 124.98h-5M786.3 118.06h5M1247 118.06h-5M786.3 112.4h5M1247 112.4h-5M786.3 107.62h5M1247 107.62h-5M786.3 103.48h5M1247 103.48h-5M786.3 99.83h5M1247 99.83h-5M786.3 96.56h10M1247 96.56h-10" stroke="#000" stroke-width="1.7" fill="none"/><rect x="786.3" y="92.0" width="460.7" height="504.5" fill="none" stroke="#000" stroke-width="2"/><g style="font-family:'Liberation Serif',serif" fill="#000"><g class="th"><text x="195.53" y="392.4" style="font-size:26px;" >2</text><rect x="181.2" y="384.6" width="12.8" height="1.7"/><text x="145.87" y="404.8" style="font-size:34.5px;" >10</text></g><g class="th"><text x="194.51" y="474.8" style="font-size:26px;" >4</text><rect x="181.2" y="467" width="12.8" height="1.7"/><text x="145.87" y="487.2" style="font-size:34.5px;" >10</text></g><g class="th"><text x="195.19" y="578.8" style="font-size:34.5px;" >1</text><text x="270.57" y="578.8" style="font-size:34.5px;" >10</text><text x="344.97" y="578.8" style="font-size:34.5px;" >100</text></g><text x="24.71" y="81.3" style="font-size:52px;" >(a)</text><text x="702.21" y="81.3" style="font-size:52px;" >(b)</text><text x="84.71" y="97.3" style="font-size:53px;" >1</text><text x="92.21" y="179.4" style="font-size:40px;" >2</text><rect x="68.8" y="167.3" width="20.2" height="2.5"/><text x="13.7" y="198.9" style="font-size:53.5px;" >10</text><text x="90.62" y="280" style="font-size:40px;" >4</text><rect x="68.8" y="267.9" width="20.2" height="2.5"/><text x="13.7" y="299.5" style="font-size:53.5px;" >10</text><text x="91.19" y="380.6" style="font-size:40px;" >6</text><rect x="68.8" y="368.5" width="20.2" height="2.5"/><text x="13.7" y="400.1" style="font-size:53.5px;" >10</text><text x="91.52" y="481.2" style="font-size:40px;" >8</text><rect x="68.8" y="469.1" width="20.2" height="2.5"/><text x="13.7" y="500.7" style="font-size:53.5px;" >10</text><text x="71.52" y="581.8" style="font-size:40px;" >10</text><rect x="49.5" y="569.7" width="20.5" height="2.5"/><text x="-4.7" y="601.3" style="font-size:53.5px;" >10</text><text x="116.48" y="646" style="font-size:53.5px;" >1</text><text x="304.92" y="646" style="font-size:53.5px;" >10</text><text x="492.3" y="646" style="font-size:53.5px;" >100</text><text x="577.65" y="646" style="font-size:53.5px;" >200</text><text x="345.28" y="704" style="font-size:53px;font-style:italic;" >R</text><text x="759.41" y="155.2" style="font-size:40px;" >2</text><rect x="735.4" y="143.1" width="20.2" height="2.5"/><text x="680.3" y="174.7" style="font-size:53.5px;" >10</text><text x="757.83" y="297.4" style="font-size:40px;" >4</text><rect x="735.4" y="285.3" width="20.2" height="2.5"/><text x="680.3" y="316.9" style="font-size:53.5px;" >10</text><text x="758.39" y="439.6" style="font-size:40px;" >6</text><rect x="735.4" y="427.5" width="20.2" height="2.5"/><text x="680.3" y="459.1" style="font-size:53.5px;" >10</text><text x="758.72" y="581.8" style="font-size:40px;" >8</text><rect x="735.4" y="569.7" width="20.2" height="2.5"/><text x="680.3" y="601.3" style="font-size:53.5px;" >10</text><text x="772.08" y="646" style="font-size:53.5px;" >1</text><text x="1030.12" y="646" style="font-size:53.5px;" >10</text><text x="1216.19" y="646" style="font-size:53.5px;" >50</text><text x="1004.03" y="704" style="font-size:42px;font-style:italic;" >R</text><text x="289.43" y="131.2" style="font-size:56px;font-style:italic;" >α</text><rect x="341.1" y="110.2" width="28" height="3.1"/><rect x="341.1" y="120.7" width="28" height="3.1"/><text x="386.01" y="131.2" style="font-size:54px;" >0.45</text><text x="289.43" y="176.9" style="font-size:56px;font-style:italic;" >α</text><rect x="341.1" y="155.9" width="28" height="3.1"/><rect x="341.1" y="166.4" width="28" height="3.1"/><text x="386.01" y="176.9" style="font-size:54px;" >1.75</text><text x="357.73" y="223.2" style="font-size:56px;font-style:italic;" >α</text><rect x="410" y="202.2" width="28" height="3.1"/><rect x="410" y="212.7" width="28" height="3.1"/><text x="453.51" y="223.2" style="font-size:54px;" >3</text><text x="796.67" y="412.6" style="font-size:48px;font-style:italic;" >α</text><rect x="841.3" y="395.2" width="23.6" height="2.6"/><rect x="841.3" y="404" width="23.6" height="2.6"/><text x="881.1" y="412.6" style="font-size:46.5px;" >2.00</text><text x="796.67" y="452.45" style="font-size:48px;font-style:italic;" >α</text><rect x="841.3" y="435.05" width="23.6" height="2.6"/><rect x="841.3" y="443.85" width="23.6" height="2.6"/><text x="881.14" y="452.45" style="font-size:46.5px;" >1.75</text><text x="796.67" y="492.3" style="font-size:48px;font-style:italic;" >α</text><rect x="841.3" y="474.9" width="23.6" height="2.6"/><rect x="841.3" y="483.7" width="23.6" height="2.6"/><text x="881.1" y="492.3" style="font-size:46.5px;" >1.50</text><text x="796.67" y="532.15" style="font-size:48px;font-style:italic;" >α</text><rect x="841.3" y="514.75" width="23.6" height="2.6"/><rect x="841.3" y="523.55" width="23.6" height="2.6"/><text x="881.14" y="532.15" style="font-size:46.5px;" >0.75</text><text x="796.67" y="572" style="font-size:48px;font-style:italic;" >α</text><rect x="841.3" y="554.6" width="23.6" height="2.6"/><rect x="841.3" y="563.4" width="23.6" height="2.6"/><text x="881.1" y="572" style="font-size:46.5px;" >0.50</text><rect x="189.1" y="14.5" width="3.2" height="44.8"/><rect x="346.4" y="14.5" width="3.2" height="44.8"/><path d="M214.3 14.8L201.2 36.9L214.3 59.1M323.5 14.8L336.8 36.9L323.5 59.1" fill="none" stroke="#000" stroke-width="2.6"/><text x="217.62" y="51.1" style="font-size:53px;font-style:italic;" >a</text><text x="246.65" y="27.2" style="font-size:39px;" >†</text><text x="247.5" y="69" style="font-size:37.5px;font-style:italic;" >R</text><text x="271.82" y="51.1" style="font-size:53px;font-style:italic;" >a</text><text x="300.44" y="59.5" style="font-size:40px;" >1</text><text x="368.87" y="51.2" style="font-size:52px;" >-</text><text x="399.79" y="51.2" style="font-size:52.5px;" >Kitaev</text><text x="832.09" y="51.5" style="font-size:54px;font-style:italic;" >C</text><text x="871.88" y="32.3" style="font-size:43px;font-style:italic;" >zz</text><text x="867.31" y="70.6" style="font-size:40px;font-style:italic;" >R</text><text x="890.32" y="76.2" style="font-size:31px;" >0</text><text x="906.74" y="74.14" style="font-size:42px;" >+</text><text x="929.94" y="70.4" style="font-size:40px;" >1</text><text x="950.88" y="70.4" style="font-size:40px;" >,</text><text x="959.61" y="70.6" style="font-size:40px;font-style:italic;" >R</text><text x="982.32" y="76.2" style="font-size:31px;" >0</text><text x="998.94" y="74.14" style="font-size:42px;" >+</text><text x="1025.01" y="70.6" style="font-size:40px;font-style:italic;" >R</text><text x="1063.57" y="50.3" style="font-size:52px;" >-</text><text x="1093.27" y="50.3" style="font-size:53.5px;" >Ising</text><g transform="translate(1186.8,238.6) rotate(24.4)"><g transform="translate(-36,1.5)"><path d="M-8.9 -3.1C-8.2 -6 -6.8 -7.4 -5.4 -7.3C-3 -7.1 -1.6 -5.5 -1.1 -2.5L-0.5 1.8C-1.6 5.8 -3 8.8 -4.8 11.4" fill="none" stroke="#000" stroke-width="2.5" stroke-linecap="round"/><path d="M-0.7 2.8L7.1 -7.5" fill="none" stroke="#000" stroke-width="1.8" stroke-linecap="round"/></g><text x="-27.6" y="12.6" style="font-size:20px;font-style:italic">z</text><rect x="-7.25" y="-4.05" width="14.5" height="2.1"/><rect x="-7.25" y="1.95" width="14.5" height="2.1"/><text x="17.2" y="10.1" style="font-size:33px;font-style:italic">1.7</text></g><g transform="translate(1186.75,331.4) rotate(25.1)"><g transform="translate(-36,1.5)"><path d="M-8.9 -3.1C-8.2 -6 -6.8 -7.4 -5.4 -7.3C-3 -7.1 -1.6 -5.5 -1.1 -2.5L-0.5 1.8C-1.6 5.8 -3 8.8 -4.8 11.4" fill="none" stroke="#000" stroke-width="2.5" stroke-linecap="round"/><path d="M-0.7 2.8L7.1 -7.5" fill="none" stroke="#000" stroke-width="1.8" stroke-linecap="round"/></g><text x="-27.6" y="12.6" style="font-size:20px;font-style:italic">z</text><rect x="-7.25" y="-4.05" width="14.5" height="2.1"/><rect x="-7.25" y="1.95" width="14.5" height="2.1"/><text x="17.2" y="10.1" style="font-size:33px;font-style:italic">1.9</text></g><g transform="translate(1184.9,410) rotate(30)"><g transform="translate(-36,1.5)"><path d="M-8.9 -3.1C-8.2 -6 -6.8 -7.4 -5.4 -7.3C-3 -7.1 -1.6 -5.5 -1.1 -2.5L-0.5 1.8C-1.6 5.8 -3 8.8 -4.8 11.4" fill="none" stroke="#000" stroke-width="2.5" stroke-linecap="round"/><path d="M-0.7 2.8L7.1 -7.5" fill="none" stroke="#000" stroke-width="1.8" stroke-linecap="round"/></g><text x="-27.6" y="12.6" style="font-size:20px;font-style:italic">z</text><rect x="-7.25" y="-4.05" width="14.5" height="2.1"/><rect x="-7.25" y="1.95" width="14.5" height="2.1"/><text x="17.2" y="10.1" style="font-size:33px;font-style:italic">3.0</text></g><g transform="translate(1196.2,465.5) rotate(30)"><g transform="translate(-36,1.5)"><path d="M-8.9 -3.1C-8.2 -6 -6.8 -7.4 -5.4 -7.3C-3 -7.1 -1.6 -5.5 -1.1 -2.5L-0.5 1.8C-1.6 5.8 -3 8.8 -4.8 11.4" fill="none" stroke="#000" stroke-width="2.5" stroke-linecap="round"/><path d="M-0.7 2.8L7.1 -7.5" fill="none" stroke="#000" stroke-width="1.8" stroke-linecap="round"/></g><text x="-27.6" y="12.6" style="font-size:20px;font-style:italic">z</text><rect x="-7.25" y="-4.05" width="14.5" height="2.1"/><rect x="-7.25" y="1.95" width="14.5" height="2.1"/><text x="17.2" y="10.1" style="font-size:33px;font-style:italic">3.5</text></g><g transform="translate(1110.2,489.3) rotate(39.6)"><g transform="translate(-36,1.5)"><path d="M-8.9 -3.1C-8.2 -6 -6.8 -7.4 -5.4 -7.3C-3 -7.1 -1.6 -5.5 -1.1 -2.5L-0.5 1.8C-1.6 5.8 -3 8.8 -4.8 11.4" fill="none" stroke="#000" stroke-width="2.5" stroke-linecap="round"/><path d="M-0.7 2.8L7.1 -7.5" fill="none" stroke="#000" stroke-width="1.8" stroke-linecap="round"/></g><text x="-27.6" y="12.6" style="font-size:20px;font-style:italic">z</text><rect x="-7.25" y="-4.05" width="14.5" height="2.1"/><rect x="-7.25" y="1.95" width="14.5" height="2.1"/><text x="17.2" y="10.1" style="font-size:33px;font-style:italic">4.0</text></g></g></svg></body></html>
